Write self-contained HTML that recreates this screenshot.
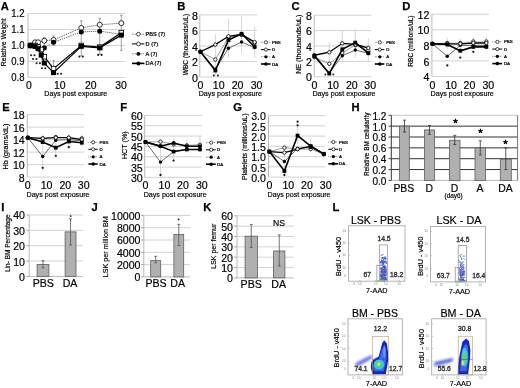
<!DOCTYPE html>
<html><head><meta charset="utf-8"><style>
html,body{margin:0;padding:0;background:#fff;}
body{width:520px;height:388px;overflow:hidden;font-family:"Liberation Sans", sans-serif;}
svg{display:block;}
</style></head><body>
<div style="will-change:transform"><svg width="520" height="388" viewBox="0 0 520 388" font-family='"Liberation Sans", sans-serif'>
<rect width="520" height="388" fill="#fff"/>
<text x="0.80" y="9.80" font-size="11.2" text-anchor="start" font-weight="bold" fill="#000" stroke="#000" stroke-width="0.25">A</text>
<text x="177.20" y="10.30" font-size="11.2" text-anchor="start" font-weight="bold" fill="#000" stroke="#000" stroke-width="0.25">B</text>
<text x="291.60" y="10.30" font-size="11.2" text-anchor="start" font-weight="bold" fill="#000" stroke="#000" stroke-width="0.25">C</text>
<text x="402.20" y="10.30" font-size="11.2" text-anchor="start" font-weight="bold" fill="#000" stroke="#000" stroke-width="0.25">D</text>
<text x="2.20" y="111.00" font-size="11.2" text-anchor="start" font-weight="bold" fill="#000" stroke="#000" stroke-width="0.25">E</text>
<text x="120.20" y="111.00" font-size="11.2" text-anchor="start" font-weight="bold" fill="#000" stroke="#000" stroke-width="0.25">F</text>
<text x="233.20" y="111.00" font-size="11.2" text-anchor="start" font-weight="bold" fill="#000" stroke="#000" stroke-width="0.25">G</text>
<text x="351.60" y="111.00" font-size="11.2" text-anchor="start" font-weight="bold" fill="#000" stroke="#000" stroke-width="0.25">H</text>
<text x="1.30" y="211.20" font-size="11.2" text-anchor="start" font-weight="bold" fill="#000" stroke="#000" stroke-width="0.25">I</text>
<text x="91.60" y="211.20" font-size="11.2" text-anchor="start" font-weight="bold" fill="#000" stroke="#000" stroke-width="0.25">J</text>
<text x="203.20" y="211.20" font-size="11.2" text-anchor="start" font-weight="bold" fill="#000" stroke="#000" stroke-width="0.25">K</text>
<text x="332.60" y="211.20" font-size="11.2" text-anchor="start" font-weight="bold" fill="#000" stroke="#000" stroke-width="0.25">L</text>
<line x1="28.00" y1="77.40" x2="125.00" y2="77.40" stroke="#d2d2d2" stroke-width="1" stroke-linecap="butt"/>
<line x1="28.00" y1="61.45" x2="125.00" y2="61.45" stroke="#d2d2d2" stroke-width="1" stroke-linecap="butt"/>
<line x1="28.00" y1="45.50" x2="125.00" y2="45.50" stroke="#d2d2d2" stroke-width="1" stroke-linecap="butt"/>
<line x1="28.00" y1="29.55" x2="125.00" y2="29.55" stroke="#d2d2d2" stroke-width="1" stroke-linecap="butt"/>
<line x1="28.00" y1="13.60" x2="125.00" y2="13.60" stroke="#d2d2d2" stroke-width="1" stroke-linecap="butt"/>
<line x1="28.00" y1="77.40" x2="28.00" y2="13.60" stroke="#b8b8b8" stroke-width="1" stroke-linecap="butt"/>
<text transform="translate(24.60 81.04) scale(0.92 1)" font-size="10.4" text-anchor="end" font-weight="normal" fill="#000" stroke="#000" stroke-width="0.18">0.8</text>
<text transform="translate(24.60 65.09) scale(0.92 1)" font-size="10.4" text-anchor="end" font-weight="normal" fill="#000" stroke="#000" stroke-width="0.18">0.9</text>
<text transform="translate(24.60 49.14) scale(0.92 1)" font-size="10.4" text-anchor="end" font-weight="normal" fill="#000" stroke="#000" stroke-width="0.18">1.0</text>
<text transform="translate(24.60 33.19) scale(0.92 1)" font-size="10.4" text-anchor="end" font-weight="normal" fill="#000" stroke="#000" stroke-width="0.18">1.1</text>
<text transform="translate(24.60 17.24) scale(0.92 1)" font-size="10.4" text-anchor="end" font-weight="normal" fill="#000" stroke="#000" stroke-width="0.18">1.2</text>
<text x="28.80" y="89.00" font-size="10.4" text-anchor="middle" font-weight="normal" fill="#000" stroke="#000" stroke-width="0.18">0</text>
<text x="59.80" y="89.00" font-size="10.4" text-anchor="middle" font-weight="normal" fill="#000" stroke="#000" stroke-width="0.18">10</text>
<text x="90.70" y="89.00" font-size="10.4" text-anchor="middle" font-weight="normal" fill="#000" stroke="#000" stroke-width="0.18">20</text>
<text x="121.00" y="89.00" font-size="10.4" text-anchor="middle" font-weight="normal" fill="#000" stroke="#000" stroke-width="0.18">30</text>
<text x="75.80" y="96.00" font-size="7.5" text-anchor="middle" font-weight="normal" fill="#000" stroke="#000" stroke-width="0.18" textLength="63.00" lengthAdjust="spacingAndGlyphs">Days post exposure</text>
<text transform="translate(6.00 42.30) rotate(-90)" font-size="6.9" text-anchor="middle" font-weight="normal" fill="#000" stroke="#000" stroke-width="0.18" textLength="47.90" lengthAdjust="spacingAndGlyphs">Relative Weight</text>
<line x1="53.54" y1="72.62" x2="53.54" y2="60.65" stroke="#888" stroke-width="0.8" stroke-linecap="butt"/>
<line x1="52.34" y1="72.62" x2="54.74" y2="72.62" stroke="#888" stroke-width="0.8" stroke-linecap="butt"/>
<line x1="52.34" y1="60.65" x2="54.74" y2="60.65" stroke="#888" stroke-width="0.8" stroke-linecap="butt"/>
<line x1="81.26" y1="55.87" x2="81.26" y2="20.78" stroke="#888" stroke-width="0.8" stroke-linecap="butt"/>
<line x1="80.06" y1="55.87" x2="82.46" y2="55.87" stroke="#888" stroke-width="0.8" stroke-linecap="butt"/>
<line x1="80.06" y1="20.78" x2="82.46" y2="20.78" stroke="#888" stroke-width="0.8" stroke-linecap="butt"/>
<line x1="99.74" y1="54.27" x2="99.74" y2="18.39" stroke="#888" stroke-width="0.8" stroke-linecap="butt"/>
<line x1="98.54" y1="54.27" x2="100.94" y2="54.27" stroke="#888" stroke-width="0.8" stroke-linecap="butt"/>
<line x1="98.54" y1="18.39" x2="100.94" y2="18.39" stroke="#888" stroke-width="0.8" stroke-linecap="butt"/>
<line x1="121.30" y1="50.29" x2="121.30" y2="15.19" stroke="#888" stroke-width="0.8" stroke-linecap="butt"/>
<line x1="120.10" y1="50.29" x2="122.50" y2="50.29" stroke="#888" stroke-width="0.8" stroke-linecap="butt"/>
<line x1="120.10" y1="15.19" x2="122.50" y2="15.19" stroke="#888" stroke-width="0.8" stroke-linecap="butt"/>
<line x1="53.54" y1="45.50" x2="53.54" y2="35.93" stroke="#888" stroke-width="0.8" stroke-linecap="butt"/>
<line x1="52.34" y1="45.50" x2="54.74" y2="45.50" stroke="#888" stroke-width="0.8" stroke-linecap="butt"/>
<line x1="52.34" y1="35.93" x2="54.74" y2="35.93" stroke="#888" stroke-width="0.8" stroke-linecap="butt"/>
<line x1="44.30" y1="45.50" x2="44.30" y2="37.52" stroke="#888" stroke-width="0.8" stroke-linecap="butt"/>
<line x1="43.10" y1="45.50" x2="45.50" y2="45.50" stroke="#888" stroke-width="0.8" stroke-linecap="butt"/>
<line x1="43.10" y1="37.52" x2="45.50" y2="37.52" stroke="#888" stroke-width="0.8" stroke-linecap="butt"/>
<polyline points="30.44,45.50 35.06,42.31 38.14,42.31 44.30,40.71 53.54,39.92 81.26,27.95 99.74,24.77 121.30,23.17" fill="none" stroke="#333" stroke-width="0.9" stroke-dasharray="1,1" stroke-linejoin="miter"/>
<circle cx="30.44" cy="45.50" r="2.50" fill="#fff" stroke="#000" stroke-width="0.8"/>
<circle cx="35.06" cy="42.31" r="2.50" fill="#fff" stroke="#000" stroke-width="0.8"/>
<circle cx="38.14" cy="42.31" r="2.50" fill="#fff" stroke="#000" stroke-width="0.8"/>
<circle cx="44.30" cy="40.71" r="2.50" fill="#fff" stroke="#000" stroke-width="0.8"/>
<circle cx="53.54" cy="39.92" r="2.50" fill="#fff" stroke="#000" stroke-width="0.8"/>
<circle cx="81.26" cy="27.95" r="2.50" fill="#fff" stroke="#000" stroke-width="0.8"/>
<circle cx="99.74" cy="24.77" r="2.50" fill="#fff" stroke="#000" stroke-width="0.8"/>
<circle cx="121.30" cy="23.17" r="2.50" fill="#fff" stroke="#000" stroke-width="0.8"/>
<polyline points="30.44,45.50 35.06,46.30 38.14,47.09 44.30,47.89 53.54,42.31 81.26,31.94 99.74,31.14 121.30,34.33" fill="none" stroke="#333" stroke-width="0.9" stroke-dasharray="1,1" stroke-linejoin="miter"/>
<circle cx="30.44" cy="45.50" r="2.50" fill="#000"/>
<circle cx="35.06" cy="46.30" r="2.50" fill="#000"/>
<circle cx="38.14" cy="47.09" r="2.50" fill="#000"/>
<circle cx="44.30" cy="47.89" r="2.50" fill="#000"/>
<circle cx="53.54" cy="42.31" r="2.50" fill="#000"/>
<circle cx="81.26" cy="31.94" r="2.50" fill="#000"/>
<circle cx="99.74" cy="31.14" r="2.50" fill="#000"/>
<circle cx="121.30" cy="34.33" r="2.50" fill="#000"/>
<polyline points="30.44,45.50 35.06,45.50 38.14,47.09 41.22,49.49 44.30,56.66 53.54,68.63 81.26,45.50 99.74,47.09 121.30,32.74" fill="none" stroke="#000" stroke-width="1.2" stroke-linejoin="miter"/>
<rect x="28.14" y="43.20" width="4.60" height="4.60" fill="#fff" stroke="#000" stroke-width="0.8"/>
<rect x="32.76" y="43.20" width="4.60" height="4.60" fill="#fff" stroke="#000" stroke-width="0.8"/>
<rect x="35.84" y="44.80" width="4.60" height="4.60" fill="#fff" stroke="#000" stroke-width="0.8"/>
<rect x="38.92" y="47.19" width="4.60" height="4.60" fill="#fff" stroke="#000" stroke-width="0.8"/>
<rect x="42.00" y="54.36" width="4.60" height="4.60" fill="#fff" stroke="#000" stroke-width="0.8"/>
<rect x="51.24" y="66.33" width="4.60" height="4.60" fill="#fff" stroke="#000" stroke-width="0.8"/>
<rect x="78.96" y="43.20" width="4.60" height="4.60" fill="#fff" stroke="#000" stroke-width="0.8"/>
<rect x="97.44" y="44.80" width="4.60" height="4.60" fill="#fff" stroke="#000" stroke-width="0.8"/>
<rect x="119.00" y="30.44" width="4.60" height="4.60" fill="#fff" stroke="#000" stroke-width="0.8"/>
<polyline points="30.44,45.50 35.06,46.30 38.14,48.69 41.22,55.07 44.30,63.05 53.54,72.62 81.26,46.30 99.74,47.89 121.30,35.13" fill="none" stroke="#000" stroke-width="1.2" stroke-linejoin="miter"/>
<rect x="27.94" y="43.00" width="5.00" height="5.00" fill="#000"/>
<rect x="32.56" y="43.80" width="5.00" height="5.00" fill="#000"/>
<rect x="35.64" y="46.19" width="5.00" height="5.00" fill="#000"/>
<rect x="38.72" y="52.57" width="5.00" height="5.00" fill="#000"/>
<rect x="41.80" y="60.55" width="5.00" height="5.00" fill="#000"/>
<rect x="51.04" y="70.12" width="5.00" height="5.00" fill="#000"/>
<rect x="78.76" y="43.80" width="5.00" height="5.00" fill="#000"/>
<rect x="97.24" y="45.39" width="5.00" height="5.00" fill="#000"/>
<rect x="118.80" y="32.63" width="5.00" height="5.00" fill="#000"/>
<circle cx="31.10" cy="55.30" r="1.05" fill="#1a1a1a"/>
<circle cx="34.50" cy="55.30" r="1.05" fill="#1a1a1a"/>
<circle cx="33.10" cy="59.00" r="1.05" fill="#1a1a1a"/>
<circle cx="36.50" cy="59.00" r="1.05" fill="#1a1a1a"/>
<circle cx="36.60" cy="63.30" r="1.05" fill="#1a1a1a"/>
<circle cx="40.00" cy="63.30" r="1.05" fill="#1a1a1a"/>
<circle cx="41.90" cy="68.30" r="1.05" fill="#1a1a1a"/>
<circle cx="45.30" cy="68.30" r="1.05" fill="#1a1a1a"/>
<circle cx="57.70" cy="73.70" r="1.05" fill="#1a1a1a"/>
<circle cx="61.10" cy="73.70" r="1.05" fill="#1a1a1a"/>
<circle cx="79.40" cy="56.60" r="1.05" fill="#1a1a1a"/>
<circle cx="82.80" cy="56.60" r="1.05" fill="#1a1a1a"/>
<circle cx="98.20" cy="54.90" r="1.05" fill="#1a1a1a"/>
<circle cx="101.60" cy="54.90" r="1.05" fill="#1a1a1a"/>
<line x1="132.00" y1="34.20" x2="144.40" y2="34.20" stroke="#444" stroke-width="0.8" stroke-dasharray="0.8,0.8" stroke-linecap="butt"/>
<circle cx="138.40" cy="34.20" r="1.90" fill="#fff" stroke="#000" stroke-width="0.7"/>
<text x="145.60" y="36.22" font-size="5.6" text-anchor="start" font-weight="normal" fill="#000" stroke="#000" stroke-width="0.22">PBS (7)</text>
<line x1="132.00" y1="43.90" x2="144.40" y2="43.90" stroke="#000" stroke-width="1.0" stroke-linecap="butt"/>
<circle cx="138.40" cy="43.90" r="1.90" fill="#fff" stroke="#000" stroke-width="0.7"/>
<text x="145.60" y="45.92" font-size="5.6" text-anchor="start" font-weight="normal" fill="#000" stroke="#000" stroke-width="0.22">D (7)</text>
<line x1="132.00" y1="53.80" x2="144.40" y2="53.80" stroke="#444" stroke-width="0.8" stroke-dasharray="0.8,0.8" stroke-linecap="butt"/>
<circle cx="138.40" cy="53.80" r="1.90" fill="#000"/>
<text x="145.60" y="55.82" font-size="5.6" text-anchor="start" font-weight="normal" fill="#000" stroke="#000" stroke-width="0.22">A (7)</text>
<line x1="132.00" y1="63.40" x2="144.40" y2="63.40" stroke="#000" stroke-width="1.6" stroke-linecap="butt"/>
<circle cx="138.40" cy="63.40" r="2.00" fill="#000"/>
<text x="145.60" y="65.42" font-size="5.6" text-anchor="start" font-weight="normal" fill="#000" stroke="#000" stroke-width="0.22">DA (7)</text>
<line x1="199.80" y1="77.00" x2="257.00" y2="77.00" stroke="#d2d2d2" stroke-width="1" stroke-linecap="butt"/>
<line x1="199.80" y1="61.48" x2="257.00" y2="61.48" stroke="#d2d2d2" stroke-width="1" stroke-linecap="butt"/>
<line x1="199.80" y1="45.95" x2="257.00" y2="45.95" stroke="#d2d2d2" stroke-width="1" stroke-linecap="butt"/>
<line x1="199.80" y1="30.43" x2="257.00" y2="30.43" stroke="#d2d2d2" stroke-width="1" stroke-linecap="butt"/>
<line x1="199.80" y1="14.90" x2="257.00" y2="14.90" stroke="#d2d2d2" stroke-width="1" stroke-linecap="butt"/>
<line x1="199.80" y1="77.00" x2="199.80" y2="14.90" stroke="#b8b8b8" stroke-width="1" stroke-linecap="butt"/>
<text x="198.00" y="81.66" font-size="10.6" text-anchor="end" font-weight="normal" fill="#000" stroke="#000" stroke-width="0.18">0</text>
<text x="198.00" y="66.14" font-size="10.6" text-anchor="end" font-weight="normal" fill="#000" stroke="#000" stroke-width="0.18">2</text>
<text x="198.00" y="50.61" font-size="10.6" text-anchor="end" font-weight="normal" fill="#000" stroke="#000" stroke-width="0.18">4</text>
<text x="198.00" y="35.09" font-size="10.6" text-anchor="end" font-weight="normal" fill="#000" stroke="#000" stroke-width="0.18">6</text>
<text x="198.00" y="19.56" font-size="10.6" text-anchor="end" font-weight="normal" fill="#000" stroke="#000" stroke-width="0.18">8</text>
<text x="200.50" y="89.00" font-size="10.6" text-anchor="middle" font-weight="normal" fill="#000" stroke="#000" stroke-width="0.18">0</text>
<text x="218.70" y="89.00" font-size="10.6" text-anchor="middle" font-weight="normal" fill="#000" stroke="#000" stroke-width="0.18">10</text>
<text x="237.60" y="89.00" font-size="10.6" text-anchor="middle" font-weight="normal" fill="#000" stroke="#000" stroke-width="0.18">20</text>
<text x="256.60" y="89.00" font-size="10.6" text-anchor="middle" font-weight="normal" fill="#000" stroke="#000" stroke-width="0.18">30</text>
<text x="230.30" y="95.90" font-size="7.5" text-anchor="middle" font-weight="normal" fill="#000" stroke="#000" stroke-width="0.18" textLength="63.20" lengthAdjust="spacingAndGlyphs">Days post exposure</text>
<text transform="translate(188.30 44.60) rotate(-90)" font-size="6.6" text-anchor="middle" font-weight="normal" fill="#000" stroke="#000" stroke-width="0.18" textLength="61.50" lengthAdjust="spacingAndGlyphs">WBC (thousands/uL)</text>
<line x1="215.36" y1="75.45" x2="215.36" y2="34.31" stroke="#ccc" stroke-width="0.8" stroke-linecap="butt"/>
<line x1="228.45" y1="57.59" x2="228.45" y2="18.78" stroke="#ccc" stroke-width="0.8" stroke-linecap="butt"/>
<line x1="241.54" y1="53.71" x2="241.54" y2="16.45" stroke="#ccc" stroke-width="0.8" stroke-linecap="butt"/>
<line x1="254.63" y1="57.59" x2="254.63" y2="26.54" stroke="#ccc" stroke-width="0.8" stroke-linecap="butt"/>
<polyline points="200.40,51.77 215.36,59.53 228.45,37.41 241.54,35.08 254.63,42.84" fill="none" stroke="#888" stroke-width="0.8" stroke-linejoin="miter"/>
<circle cx="200.40" cy="51.77" r="1.70" fill="#fff" stroke="#000" stroke-width="0.8"/>
<circle cx="215.36" cy="59.53" r="1.70" fill="#fff" stroke="#000" stroke-width="0.8"/>
<circle cx="228.45" cy="37.41" r="1.70" fill="#fff" stroke="#000" stroke-width="0.8"/>
<circle cx="241.54" cy="35.08" r="1.70" fill="#fff" stroke="#000" stroke-width="0.8"/>
<circle cx="254.63" cy="42.84" r="1.70" fill="#fff" stroke="#000" stroke-width="0.8"/>
<polyline points="200.40,51.77 215.36,69.24 228.45,48.28 241.54,42.07 254.63,47.50" fill="none" stroke="#444" stroke-width="0.8" stroke-linejoin="miter"/>
<circle cx="200.40" cy="51.77" r="1.70" fill="#000"/>
<circle cx="215.36" cy="69.24" r="1.70" fill="#000"/>
<circle cx="228.45" cy="48.28" r="1.70" fill="#000"/>
<circle cx="241.54" cy="42.07" r="1.70" fill="#000"/>
<circle cx="254.63" cy="47.50" r="1.70" fill="#000"/>
<polyline points="200.40,51.77 215.36,44.63 228.45,36.25 241.54,34.31 254.63,42.07" fill="none" stroke="#000" stroke-width="1.3" stroke-linejoin="miter"/>
<circle cx="200.40" cy="51.77" r="1.70" fill="#fff" stroke="#000" stroke-width="0.8"/>
<circle cx="215.36" cy="44.63" r="1.70" fill="#fff" stroke="#000" stroke-width="0.8"/>
<circle cx="228.45" cy="36.25" r="1.70" fill="#fff" stroke="#000" stroke-width="0.8"/>
<circle cx="241.54" cy="34.31" r="1.70" fill="#fff" stroke="#000" stroke-width="0.8"/>
<circle cx="254.63" cy="42.07" r="1.70" fill="#fff" stroke="#000" stroke-width="0.8"/>
<polyline points="200.40,51.77 215.36,70.56 228.45,40.13 241.54,33.76 254.63,46.73" fill="none" stroke="#000" stroke-width="1.6" stroke-linejoin="miter"/>
<rect x="198.50" y="49.87" width="3.80" height="3.80" fill="#000"/>
<rect x="213.46" y="68.66" width="3.80" height="3.80" fill="#000"/>
<rect x="226.55" y="38.23" width="3.80" height="3.80" fill="#000"/>
<rect x="239.64" y="31.86" width="3.80" height="3.80" fill="#000"/>
<rect x="252.73" y="44.83" width="3.80" height="3.80" fill="#000"/>
<circle cx="213.80" cy="75.40" r="1.0" fill="#1a1a1a"/>
<circle cx="217.90" cy="75.40" r="1.0" fill="#1a1a1a"/>
<line x1="260.90" y1="42.30" x2="270.60" y2="42.30" stroke="#444" stroke-width="0.8" stroke-dasharray="0.8,0.8" stroke-linecap="butt"/>
<circle cx="265.90" cy="42.30" r="1.60" fill="#fff" stroke="#000" stroke-width="0.7"/>
<text x="272.00" y="43.88" font-size="4.4" text-anchor="start" font-weight="normal" fill="#000" stroke="#000" stroke-width="0.22">PBS</text>
<line x1="260.90" y1="49.60" x2="270.60" y2="49.60" stroke="#000" stroke-width="1.0" stroke-linecap="butt"/>
<circle cx="265.90" cy="49.60" r="1.60" fill="#fff" stroke="#000" stroke-width="0.7"/>
<text x="272.00" y="51.18" font-size="4.4" text-anchor="start" font-weight="normal" fill="#000" stroke="#000" stroke-width="0.22">D</text>
<line x1="260.90" y1="56.80" x2="270.60" y2="56.80" stroke="#444" stroke-width="0.8" stroke-dasharray="0.8,0.8" stroke-linecap="butt"/>
<circle cx="265.90" cy="56.80" r="1.60" fill="#000"/>
<text x="272.00" y="58.38" font-size="4.4" text-anchor="start" font-weight="normal" fill="#000" stroke="#000" stroke-width="0.22">A</text>
<line x1="260.90" y1="64.00" x2="270.60" y2="64.00" stroke="#000" stroke-width="1.6" stroke-linecap="butt"/>
<circle cx="265.90" cy="64.00" r="1.80" fill="#000"/>
<text x="272.00" y="65.58" font-size="4.4" text-anchor="start" font-weight="normal" fill="#000" stroke="#000" stroke-width="0.22">DA</text>
<line x1="314.20" y1="76.80" x2="371.50" y2="76.80" stroke="#d2d2d2" stroke-width="1" stroke-linecap="butt"/>
<line x1="314.20" y1="61.40" x2="371.50" y2="61.40" stroke="#d2d2d2" stroke-width="1" stroke-linecap="butt"/>
<line x1="314.20" y1="46.00" x2="371.50" y2="46.00" stroke="#d2d2d2" stroke-width="1" stroke-linecap="butt"/>
<line x1="314.20" y1="30.60" x2="371.50" y2="30.60" stroke="#d2d2d2" stroke-width="1" stroke-linecap="butt"/>
<line x1="314.20" y1="15.20" x2="371.50" y2="15.20" stroke="#d2d2d2" stroke-width="1" stroke-linecap="butt"/>
<line x1="314.20" y1="76.80" x2="314.20" y2="15.20" stroke="#b8b8b8" stroke-width="1" stroke-linecap="butt"/>
<text x="311.80" y="81.46" font-size="10.6" text-anchor="end" font-weight="normal" fill="#000" stroke="#000" stroke-width="0.18">0</text>
<text x="311.80" y="66.06" font-size="10.6" text-anchor="end" font-weight="normal" fill="#000" stroke="#000" stroke-width="0.18">2</text>
<text x="311.80" y="50.66" font-size="10.6" text-anchor="end" font-weight="normal" fill="#000" stroke="#000" stroke-width="0.18">4</text>
<text x="311.80" y="35.26" font-size="10.6" text-anchor="end" font-weight="normal" fill="#000" stroke="#000" stroke-width="0.18">6</text>
<text x="311.80" y="19.86" font-size="10.6" text-anchor="end" font-weight="normal" fill="#000" stroke="#000" stroke-width="0.18">8</text>
<text x="314.40" y="89.00" font-size="10.6" text-anchor="middle" font-weight="normal" fill="#000" stroke="#000" stroke-width="0.18">0</text>
<text x="333.10" y="89.00" font-size="10.6" text-anchor="middle" font-weight="normal" fill="#000" stroke="#000" stroke-width="0.18">10</text>
<text x="351.80" y="89.00" font-size="10.6" text-anchor="middle" font-weight="normal" fill="#000" stroke="#000" stroke-width="0.18">20</text>
<text x="370.20" y="89.00" font-size="10.6" text-anchor="middle" font-weight="normal" fill="#000" stroke="#000" stroke-width="0.18">30</text>
<text x="344.00" y="95.90" font-size="7.5" text-anchor="middle" font-weight="normal" fill="#000" stroke="#000" stroke-width="0.18" textLength="63.20" lengthAdjust="spacingAndGlyphs">Days post exposure</text>
<text transform="translate(300.80 44.20) rotate(-90)" font-size="6.4" text-anchor="middle" font-weight="normal" fill="#000" stroke="#000" stroke-width="0.18" textLength="59.20" lengthAdjust="spacingAndGlyphs">NE (thousands/uL)</text>
<line x1="329.28" y1="75.26" x2="329.28" y2="42.15" stroke="#ccc" stroke-width="0.8" stroke-linecap="butt"/>
<line x1="342.30" y1="61.40" x2="342.30" y2="30.60" stroke="#ccc" stroke-width="0.8" stroke-linecap="butt"/>
<line x1="355.32" y1="57.55" x2="355.32" y2="29.06" stroke="#ccc" stroke-width="0.8" stroke-linecap="butt"/>
<line x1="368.34" y1="61.40" x2="368.34" y2="38.30" stroke="#ccc" stroke-width="0.8" stroke-linecap="butt"/>
<polyline points="314.40,57.16 329.28,63.79 342.30,52.93 355.32,45.23 368.34,50.62" fill="none" stroke="#888" stroke-width="0.8" stroke-linejoin="miter"/>
<circle cx="314.40" cy="57.16" r="1.70" fill="#fff" stroke="#000" stroke-width="0.8"/>
<circle cx="329.28" cy="63.79" r="1.70" fill="#fff" stroke="#000" stroke-width="0.8"/>
<circle cx="342.30" cy="52.93" r="1.70" fill="#fff" stroke="#000" stroke-width="0.8"/>
<circle cx="355.32" cy="45.23" r="1.70" fill="#fff" stroke="#000" stroke-width="0.8"/>
<circle cx="368.34" cy="50.62" r="1.70" fill="#fff" stroke="#000" stroke-width="0.8"/>
<polyline points="314.40,56.78 329.28,72.95 342.30,55.78 355.32,50.00 368.34,53.24" fill="none" stroke="#444" stroke-width="0.8" stroke-linejoin="miter"/>
<circle cx="314.40" cy="56.78" r="1.70" fill="#000"/>
<circle cx="329.28" cy="72.95" r="1.70" fill="#000"/>
<circle cx="342.30" cy="55.78" r="1.70" fill="#000"/>
<circle cx="355.32" cy="50.00" r="1.70" fill="#000"/>
<circle cx="368.34" cy="53.24" r="1.70" fill="#000"/>
<polyline points="314.40,55.24 329.28,52.24 342.30,43.30 355.32,44.46 368.34,48.00" fill="none" stroke="#000" stroke-width="1.3" stroke-linejoin="miter"/>
<circle cx="314.40" cy="55.24" r="1.70" fill="#fff" stroke="#000" stroke-width="0.8"/>
<circle cx="329.28" cy="52.24" r="1.70" fill="#fff" stroke="#000" stroke-width="0.8"/>
<circle cx="342.30" cy="43.30" r="1.70" fill="#fff" stroke="#000" stroke-width="0.8"/>
<circle cx="355.32" cy="44.46" r="1.70" fill="#fff" stroke="#000" stroke-width="0.8"/>
<circle cx="368.34" cy="48.00" r="1.70" fill="#fff" stroke="#000" stroke-width="0.8"/>
<polyline points="314.40,55.62 329.28,73.57 342.30,49.31 355.32,42.61 368.34,53.24" fill="none" stroke="#000" stroke-width="1.6" stroke-linejoin="miter"/>
<rect x="312.50" y="53.73" width="3.80" height="3.80" fill="#000"/>
<rect x="327.38" y="71.67" width="3.80" height="3.80" fill="#000"/>
<rect x="340.40" y="47.41" width="3.80" height="3.80" fill="#000"/>
<rect x="353.42" y="40.71" width="3.80" height="3.80" fill="#000"/>
<rect x="366.44" y="51.34" width="3.80" height="3.80" fill="#000"/>
<circle cx="325.40" cy="74.50" r="0.95" fill="#1a1a1a"/>
<circle cx="333.30" cy="74.50" r="0.95" fill="#1a1a1a"/>
<line x1="374.80" y1="42.30" x2="384.40" y2="42.30" stroke="#444" stroke-width="0.8" stroke-dasharray="0.8,0.8" stroke-linecap="butt"/>
<circle cx="379.80" cy="42.30" r="1.60" fill="#fff" stroke="#000" stroke-width="0.7"/>
<text x="386.20" y="43.88" font-size="4.4" text-anchor="start" font-weight="normal" fill="#000" stroke="#000" stroke-width="0.22">PBS</text>
<line x1="374.80" y1="49.60" x2="384.40" y2="49.60" stroke="#000" stroke-width="1.0" stroke-linecap="butt"/>
<circle cx="379.80" cy="49.60" r="1.60" fill="#fff" stroke="#000" stroke-width="0.7"/>
<text x="386.20" y="51.18" font-size="4.4" text-anchor="start" font-weight="normal" fill="#000" stroke="#000" stroke-width="0.22">D</text>
<line x1="374.80" y1="56.80" x2="384.40" y2="56.80" stroke="#444" stroke-width="0.8" stroke-dasharray="0.8,0.8" stroke-linecap="butt"/>
<circle cx="379.80" cy="56.80" r="1.60" fill="#000"/>
<text x="386.20" y="58.38" font-size="4.4" text-anchor="start" font-weight="normal" fill="#000" stroke="#000" stroke-width="0.22">A</text>
<line x1="374.80" y1="64.00" x2="384.40" y2="64.00" stroke="#000" stroke-width="1.6" stroke-linecap="butt"/>
<circle cx="379.80" cy="64.00" r="1.80" fill="#000"/>
<text x="386.20" y="65.58" font-size="4.4" text-anchor="start" font-weight="normal" fill="#000" stroke="#000" stroke-width="0.22">DA</text>
<line x1="431.90" y1="76.40" x2="489.00" y2="76.40" stroke="#d2d2d2" stroke-width="1" stroke-linecap="butt"/>
<line x1="431.90" y1="60.88" x2="489.00" y2="60.88" stroke="#d2d2d2" stroke-width="1" stroke-linecap="butt"/>
<line x1="431.90" y1="45.35" x2="489.00" y2="45.35" stroke="#d2d2d2" stroke-width="1" stroke-linecap="butt"/>
<line x1="431.90" y1="29.83" x2="489.00" y2="29.83" stroke="#d2d2d2" stroke-width="1" stroke-linecap="butt"/>
<line x1="431.90" y1="14.30" x2="489.00" y2="14.30" stroke="#d2d2d2" stroke-width="1" stroke-linecap="butt"/>
<line x1="431.90" y1="76.40" x2="431.90" y2="14.30" stroke="#b8b8b8" stroke-width="1" stroke-linecap="butt"/>
<text x="429.40" y="81.06" font-size="10.6" text-anchor="end" font-weight="normal" fill="#000" stroke="#000" stroke-width="0.18">4</text>
<text x="429.40" y="65.54" font-size="10.6" text-anchor="end" font-weight="normal" fill="#000" stroke="#000" stroke-width="0.18">6</text>
<text x="429.40" y="50.01" font-size="10.6" text-anchor="end" font-weight="normal" fill="#000" stroke="#000" stroke-width="0.18">8</text>
<text x="429.40" y="34.49" font-size="10.6" text-anchor="end" font-weight="normal" fill="#000" stroke="#000" stroke-width="0.18">10</text>
<text x="429.40" y="18.96" font-size="10.6" text-anchor="end" font-weight="normal" fill="#000" stroke="#000" stroke-width="0.18">12</text>
<text x="432.40" y="89.00" font-size="10.6" text-anchor="middle" font-weight="normal" fill="#000" stroke="#000" stroke-width="0.18">0</text>
<text x="451.10" y="89.00" font-size="10.6" text-anchor="middle" font-weight="normal" fill="#000" stroke="#000" stroke-width="0.18">10</text>
<text x="469.40" y="89.00" font-size="10.6" text-anchor="middle" font-weight="normal" fill="#000" stroke="#000" stroke-width="0.18">20</text>
<text x="488.30" y="89.00" font-size="10.6" text-anchor="middle" font-weight="normal" fill="#000" stroke="#000" stroke-width="0.18">30</text>
<text x="462.20" y="95.90" font-size="7.5" text-anchor="middle" font-weight="normal" fill="#000" stroke="#000" stroke-width="0.18" textLength="63.20" lengthAdjust="spacingAndGlyphs">Days post exposure</text>
<text transform="translate(413.40 41.10) rotate(-90)" font-size="6.4" text-anchor="middle" font-weight="normal" fill="#000" stroke="#000" stroke-width="0.18" textLength="51.20" lengthAdjust="spacingAndGlyphs">RBC (millions/uL)</text>
<line x1="447.28" y1="49.23" x2="447.28" y2="37.59" stroke="#ccc" stroke-width="0.8" stroke-linecap="butt"/>
<line x1="460.30" y1="49.23" x2="460.30" y2="39.14" stroke="#ccc" stroke-width="0.8" stroke-linecap="butt"/>
<line x1="473.32" y1="50.01" x2="473.32" y2="37.59" stroke="#ccc" stroke-width="0.8" stroke-linecap="butt"/>
<line x1="486.34" y1="50.01" x2="486.34" y2="36.04" stroke="#ccc" stroke-width="0.8" stroke-linecap="butt"/>
<polyline points="432.40,43.80 447.28,43.02 460.30,43.02 473.32,41.47 486.34,41.47" fill="none" stroke="#888" stroke-width="0.8" stroke-dasharray="1,1" stroke-linejoin="miter"/>
<circle cx="432.40" cy="43.80" r="1.70" fill="#fff" stroke="#000" stroke-width="0.8"/>
<circle cx="447.28" cy="43.02" r="1.70" fill="#fff" stroke="#000" stroke-width="0.8"/>
<circle cx="460.30" cy="43.02" r="1.70" fill="#fff" stroke="#000" stroke-width="0.8"/>
<circle cx="473.32" cy="41.47" r="1.70" fill="#fff" stroke="#000" stroke-width="0.8"/>
<circle cx="486.34" cy="41.47" r="1.70" fill="#fff" stroke="#000" stroke-width="0.8"/>
<polyline points="432.40,43.80 447.28,56.22 460.30,45.35 473.32,45.35 486.34,45.35" fill="none" stroke="#444" stroke-width="0.8" stroke-linejoin="miter"/>
<circle cx="432.40" cy="43.80" r="1.70" fill="#000"/>
<circle cx="447.28" cy="56.22" r="1.70" fill="#000"/>
<circle cx="460.30" cy="45.35" r="1.70" fill="#000"/>
<circle cx="473.32" cy="45.35" r="1.70" fill="#000"/>
<circle cx="486.34" cy="45.35" r="1.70" fill="#000"/>
<polyline points="432.40,43.80 447.28,43.80 460.30,43.80 473.32,43.02 486.34,43.02" fill="none" stroke="#000" stroke-width="1.3" stroke-linejoin="miter"/>
<circle cx="432.40" cy="43.80" r="1.70" fill="#fff" stroke="#000" stroke-width="0.8"/>
<circle cx="447.28" cy="43.80" r="1.70" fill="#fff" stroke="#000" stroke-width="0.8"/>
<circle cx="460.30" cy="43.80" r="1.70" fill="#fff" stroke="#000" stroke-width="0.8"/>
<circle cx="473.32" cy="43.02" r="1.70" fill="#fff" stroke="#000" stroke-width="0.8"/>
<circle cx="486.34" cy="43.02" r="1.70" fill="#fff" stroke="#000" stroke-width="0.8"/>
<polyline points="432.40,43.80 447.28,44.57 460.30,50.78 473.32,46.90 486.34,46.90" fill="none" stroke="#000" stroke-width="1.6" stroke-linejoin="miter"/>
<rect x="430.50" y="41.90" width="3.80" height="3.80" fill="#000"/>
<rect x="445.38" y="42.67" width="3.80" height="3.80" fill="#000"/>
<rect x="458.40" y="48.88" width="3.80" height="3.80" fill="#000"/>
<rect x="471.42" y="45.00" width="3.80" height="3.80" fill="#000"/>
<rect x="484.44" y="45.00" width="3.80" height="3.80" fill="#000"/>
<circle cx="447.30" cy="65.40" r="1.15" fill="#1a1a1a"/>
<circle cx="460.30" cy="57.60" r="1.15" fill="#1a1a1a"/>
<circle cx="473.30" cy="51.80" r="1.15" fill="#1a1a1a"/>
<line x1="492.30" y1="41.90" x2="502.20" y2="41.90" stroke="#444" stroke-width="0.8" stroke-dasharray="0.8,0.8" stroke-linecap="butt"/>
<circle cx="497.40" cy="41.90" r="1.60" fill="#fff" stroke="#000" stroke-width="0.7"/>
<text x="503.90" y="43.48" font-size="4.4" text-anchor="start" font-weight="normal" fill="#000" stroke="#000" stroke-width="0.22">PBS</text>
<line x1="492.30" y1="49.10" x2="502.20" y2="49.10" stroke="#000" stroke-width="1.0" stroke-linecap="butt"/>
<circle cx="497.40" cy="49.10" r="1.60" fill="#fff" stroke="#000" stroke-width="0.7"/>
<text x="503.90" y="50.68" font-size="4.4" text-anchor="start" font-weight="normal" fill="#000" stroke="#000" stroke-width="0.22">D</text>
<line x1="492.30" y1="56.30" x2="502.20" y2="56.30" stroke="#444" stroke-width="0.8" stroke-dasharray="0.8,0.8" stroke-linecap="butt"/>
<circle cx="497.40" cy="56.30" r="1.60" fill="#000"/>
<text x="503.90" y="57.88" font-size="4.4" text-anchor="start" font-weight="normal" fill="#000" stroke="#000" stroke-width="0.22">A</text>
<line x1="492.30" y1="63.60" x2="502.20" y2="63.60" stroke="#000" stroke-width="1.6" stroke-linecap="butt"/>
<circle cx="497.40" cy="63.60" r="1.80" fill="#000"/>
<text x="503.90" y="65.18" font-size="4.4" text-anchor="start" font-weight="normal" fill="#000" stroke="#000" stroke-width="0.22">DA</text>
<line x1="27.30" y1="177.10" x2="84.00" y2="177.10" stroke="#d2d2d2" stroke-width="1" stroke-linecap="butt"/>
<line x1="27.30" y1="164.60" x2="84.00" y2="164.60" stroke="#d2d2d2" stroke-width="1" stroke-linecap="butt"/>
<line x1="27.30" y1="152.10" x2="84.00" y2="152.10" stroke="#d2d2d2" stroke-width="1" stroke-linecap="butt"/>
<line x1="27.30" y1="139.60" x2="84.00" y2="139.60" stroke="#d2d2d2" stroke-width="1" stroke-linecap="butt"/>
<line x1="27.30" y1="127.10" x2="84.00" y2="127.10" stroke="#d2d2d2" stroke-width="1" stroke-linecap="butt"/>
<line x1="27.30" y1="114.60" x2="84.00" y2="114.60" stroke="#d2d2d2" stroke-width="1" stroke-linecap="butt"/>
<line x1="27.30" y1="177.10" x2="27.30" y2="114.60" stroke="#b8b8b8" stroke-width="1" stroke-linecap="butt"/>
<text x="24.70" y="181.76" font-size="10.6" text-anchor="end" font-weight="normal" fill="#000" stroke="#000" stroke-width="0.18">8</text>
<text x="24.70" y="169.26" font-size="10.6" text-anchor="end" font-weight="normal" fill="#000" stroke="#000" stroke-width="0.18">10</text>
<text x="24.70" y="156.76" font-size="10.6" text-anchor="end" font-weight="normal" fill="#000" stroke="#000" stroke-width="0.18">12</text>
<text x="24.70" y="144.26" font-size="10.6" text-anchor="end" font-weight="normal" fill="#000" stroke="#000" stroke-width="0.18">14</text>
<text x="24.70" y="131.76" font-size="10.6" text-anchor="end" font-weight="normal" fill="#000" stroke="#000" stroke-width="0.18">16</text>
<text x="24.70" y="119.26" font-size="10.6" text-anchor="end" font-weight="normal" fill="#000" stroke="#000" stroke-width="0.18">18</text>
<text x="27.80" y="189.00" font-size="10.6" text-anchor="middle" font-weight="normal" fill="#000" stroke="#000" stroke-width="0.18">0</text>
<text x="46.60" y="189.00" font-size="10.6" text-anchor="middle" font-weight="normal" fill="#000" stroke="#000" stroke-width="0.18">10</text>
<text x="65.30" y="189.00" font-size="10.6" text-anchor="middle" font-weight="normal" fill="#000" stroke="#000" stroke-width="0.18">20</text>
<text x="83.70" y="189.00" font-size="10.6" text-anchor="middle" font-weight="normal" fill="#000" stroke="#000" stroke-width="0.18">30</text>
<text x="58.00" y="196.80" font-size="7.5" text-anchor="middle" font-weight="normal" fill="#000" stroke="#000" stroke-width="0.18" textLength="63.00" lengthAdjust="spacingAndGlyphs">Days post exposure</text>
<text transform="translate(8.10 146.50) rotate(-90)" font-size="6.9" text-anchor="middle" font-weight="normal" fill="#000" stroke="#000" stroke-width="0.18" textLength="46.00" lengthAdjust="spacingAndGlyphs">Hb (grams/dL)</text>
<line x1="42.70" y1="170.85" x2="42.70" y2="134.60" stroke="#ccc" stroke-width="0.8" stroke-linecap="butt"/>
<line x1="55.75" y1="155.22" x2="55.75" y2="134.60" stroke="#ccc" stroke-width="0.8" stroke-linecap="butt"/>
<line x1="68.79" y1="147.10" x2="68.79" y2="133.97" stroke="#ccc" stroke-width="0.8" stroke-linecap="butt"/>
<line x1="81.83" y1="147.10" x2="81.83" y2="134.60" stroke="#ccc" stroke-width="0.8" stroke-linecap="butt"/>
<polyline points="27.80,137.72 42.70,138.35 55.75,137.10 68.79,137.72 81.83,138.35" fill="none" stroke="#888" stroke-width="0.8" stroke-dasharray="1,1" stroke-linejoin="miter"/>
<circle cx="27.80" cy="137.72" r="1.70" fill="#fff" stroke="#000" stroke-width="0.8"/>
<circle cx="42.70" cy="138.35" r="1.70" fill="#fff" stroke="#000" stroke-width="0.8"/>
<circle cx="55.75" cy="137.10" r="1.70" fill="#fff" stroke="#000" stroke-width="0.8"/>
<circle cx="68.79" cy="137.72" r="1.70" fill="#fff" stroke="#000" stroke-width="0.8"/>
<circle cx="81.83" cy="138.35" r="1.70" fill="#fff" stroke="#000" stroke-width="0.8"/>
<polyline points="27.80,137.72 42.70,156.47 55.75,140.22 68.79,139.60 81.83,140.85" fill="none" stroke="#444" stroke-width="0.8" stroke-linejoin="miter"/>
<circle cx="27.80" cy="137.72" r="1.70" fill="#000"/>
<circle cx="42.70" cy="156.47" r="1.70" fill="#000"/>
<circle cx="55.75" cy="140.22" r="1.70" fill="#000"/>
<circle cx="68.79" cy="139.60" r="1.70" fill="#000"/>
<circle cx="81.83" cy="140.85" r="1.70" fill="#000"/>
<polyline points="27.80,137.72 42.70,138.35 55.75,137.72 68.79,137.72 81.83,139.60" fill="none" stroke="#000" stroke-width="1.3" stroke-linejoin="miter"/>
<circle cx="27.80" cy="137.72" r="1.70" fill="#fff" stroke="#000" stroke-width="0.8"/>
<circle cx="42.70" cy="138.35" r="1.70" fill="#fff" stroke="#000" stroke-width="0.8"/>
<circle cx="55.75" cy="137.72" r="1.70" fill="#fff" stroke="#000" stroke-width="0.8"/>
<circle cx="68.79" cy="137.72" r="1.70" fill="#fff" stroke="#000" stroke-width="0.8"/>
<circle cx="81.83" cy="139.60" r="1.70" fill="#fff" stroke="#000" stroke-width="0.8"/>
<polyline points="27.80,137.72 42.70,142.10 55.75,147.72 68.79,141.47 81.83,142.72" fill="none" stroke="#000" stroke-width="1.6" stroke-linejoin="miter"/>
<rect x="25.90" y="135.82" width="3.80" height="3.80" fill="#000"/>
<rect x="40.80" y="140.20" width="3.80" height="3.80" fill="#000"/>
<rect x="53.85" y="145.82" width="3.80" height="3.80" fill="#000"/>
<rect x="66.89" y="139.57" width="3.80" height="3.80" fill="#000"/>
<rect x="79.93" y="140.82" width="3.80" height="3.80" fill="#000"/>
<circle cx="42.70" cy="167.80" r="1.15" fill="#1a1a1a"/>
<circle cx="55.80" cy="155.80" r="1.15" fill="#1a1a1a"/>
<circle cx="68.80" cy="147.20" r="1.15" fill="#1a1a1a"/>
<line x1="88.40" y1="142.30" x2="97.60" y2="142.30" stroke="#444" stroke-width="0.8" stroke-dasharray="0.8,0.8" stroke-linecap="butt"/>
<circle cx="93.20" cy="142.30" r="1.60" fill="#fff" stroke="#000" stroke-width="0.7"/>
<text x="99.60" y="143.88" font-size="4.4" text-anchor="start" font-weight="normal" fill="#000" stroke="#000" stroke-width="0.22">PBS</text>
<line x1="88.40" y1="149.30" x2="97.60" y2="149.30" stroke="#000" stroke-width="1.0" stroke-linecap="butt"/>
<circle cx="93.20" cy="149.30" r="1.60" fill="#fff" stroke="#000" stroke-width="0.7"/>
<text x="99.60" y="150.88" font-size="4.4" text-anchor="start" font-weight="normal" fill="#000" stroke="#000" stroke-width="0.22">D</text>
<line x1="88.40" y1="156.80" x2="97.60" y2="156.80" stroke="#444" stroke-width="0.8" stroke-dasharray="0.8,0.8" stroke-linecap="butt"/>
<circle cx="93.20" cy="156.80" r="1.60" fill="#000"/>
<text x="99.60" y="158.38" font-size="4.4" text-anchor="start" font-weight="normal" fill="#000" stroke="#000" stroke-width="0.22">A</text>
<line x1="88.40" y1="164.00" x2="97.60" y2="164.00" stroke="#000" stroke-width="1.6" stroke-linecap="butt"/>
<circle cx="93.20" cy="164.00" r="1.80" fill="#000"/>
<text x="99.60" y="165.58" font-size="4.4" text-anchor="start" font-weight="normal" fill="#000" stroke="#000" stroke-width="0.22">DA</text>
<line x1="144.70" y1="177.40" x2="202.00" y2="177.40" stroke="#d2d2d2" stroke-width="1" stroke-linecap="butt"/>
<line x1="144.70" y1="167.07" x2="202.00" y2="167.07" stroke="#d2d2d2" stroke-width="1" stroke-linecap="butt"/>
<line x1="144.70" y1="156.73" x2="202.00" y2="156.73" stroke="#d2d2d2" stroke-width="1" stroke-linecap="butt"/>
<line x1="144.70" y1="146.40" x2="202.00" y2="146.40" stroke="#d2d2d2" stroke-width="1" stroke-linecap="butt"/>
<line x1="144.70" y1="136.07" x2="202.00" y2="136.07" stroke="#d2d2d2" stroke-width="1" stroke-linecap="butt"/>
<line x1="144.70" y1="125.73" x2="202.00" y2="125.73" stroke="#d2d2d2" stroke-width="1" stroke-linecap="butt"/>
<line x1="144.70" y1="115.40" x2="202.00" y2="115.40" stroke="#d2d2d2" stroke-width="1" stroke-linecap="butt"/>
<line x1="144.70" y1="177.40" x2="144.70" y2="115.40" stroke="#b8b8b8" stroke-width="1" stroke-linecap="butt"/>
<text x="142.70" y="182.06" font-size="10.6" text-anchor="end" font-weight="normal" fill="#000" stroke="#000" stroke-width="0.18">30</text>
<text x="142.70" y="171.73" font-size="10.6" text-anchor="end" font-weight="normal" fill="#000" stroke="#000" stroke-width="0.18">35</text>
<text x="142.70" y="161.40" font-size="10.6" text-anchor="end" font-weight="normal" fill="#000" stroke="#000" stroke-width="0.18">40</text>
<text x="142.70" y="151.06" font-size="10.6" text-anchor="end" font-weight="normal" fill="#000" stroke="#000" stroke-width="0.18">45</text>
<text x="142.70" y="140.73" font-size="10.6" text-anchor="end" font-weight="normal" fill="#000" stroke="#000" stroke-width="0.18">50</text>
<text x="142.70" y="130.40" font-size="10.6" text-anchor="end" font-weight="normal" fill="#000" stroke="#000" stroke-width="0.18">55</text>
<text x="142.70" y="120.06" font-size="10.6" text-anchor="end" font-weight="normal" fill="#000" stroke="#000" stroke-width="0.18">60</text>
<text x="145.50" y="189.00" font-size="10.6" text-anchor="middle" font-weight="normal" fill="#000" stroke="#000" stroke-width="0.18">0</text>
<text x="164.40" y="189.00" font-size="10.6" text-anchor="middle" font-weight="normal" fill="#000" stroke="#000" stroke-width="0.18">10</text>
<text x="183.00" y="189.00" font-size="10.6" text-anchor="middle" font-weight="normal" fill="#000" stroke="#000" stroke-width="0.18">20</text>
<text x="201.80" y="189.00" font-size="10.6" text-anchor="middle" font-weight="normal" fill="#000" stroke="#000" stroke-width="0.18">30</text>
<text x="175.20" y="196.80" font-size="7.5" text-anchor="middle" font-weight="normal" fill="#000" stroke="#000" stroke-width="0.18" textLength="63.00" lengthAdjust="spacingAndGlyphs">Days post exposure</text>
<text transform="translate(127.00 145.20) rotate(-90)" font-size="7.2" text-anchor="middle" font-weight="normal" fill="#000" stroke="#000" stroke-width="0.18" textLength="27.80" lengthAdjust="spacingAndGlyphs">HCT (%)</text>
<line x1="160.52" y1="176.37" x2="160.52" y2="139.17" stroke="#ccc" stroke-width="0.8" stroke-linecap="butt"/>
<line x1="173.66" y1="160.87" x2="173.66" y2="138.13" stroke="#ccc" stroke-width="0.8" stroke-linecap="butt"/>
<line x1="186.79" y1="152.60" x2="186.79" y2="140.20" stroke="#ccc" stroke-width="0.8" stroke-linecap="butt"/>
<line x1="199.93" y1="152.60" x2="199.93" y2="136.07" stroke="#ccc" stroke-width="0.8" stroke-linecap="butt"/>
<polyline points="145.50,142.06 160.52,141.65 173.66,144.33 186.79,145.37 199.93,144.75" fill="none" stroke="#888" stroke-width="0.8" stroke-linejoin="miter"/>
<circle cx="145.50" cy="142.06" r="1.70" fill="#fff" stroke="#000" stroke-width="0.8"/>
<circle cx="160.52" cy="141.65" r="1.70" fill="#fff" stroke="#000" stroke-width="0.8"/>
<circle cx="173.66" cy="144.33" r="1.70" fill="#fff" stroke="#000" stroke-width="0.8"/>
<circle cx="186.79" cy="145.37" r="1.70" fill="#fff" stroke="#000" stroke-width="0.8"/>
<circle cx="199.93" cy="144.75" r="1.70" fill="#fff" stroke="#000" stroke-width="0.8"/>
<polyline points="145.50,142.06 160.52,162.11 173.66,151.57 186.79,149.50 199.93,149.50" fill="none" stroke="#444" stroke-width="0.8" stroke-linejoin="miter"/>
<circle cx="145.50" cy="142.06" r="1.70" fill="#000"/>
<circle cx="160.52" cy="162.11" r="1.70" fill="#000"/>
<circle cx="173.66" cy="151.57" r="1.70" fill="#000"/>
<circle cx="186.79" cy="149.50" r="1.70" fill="#000"/>
<circle cx="199.93" cy="149.50" r="1.70" fill="#000"/>
<polyline points="145.50,142.06 160.52,146.19 173.66,151.57 186.79,149.50 199.93,149.50" fill="none" stroke="#000" stroke-width="1.5" stroke-linejoin="miter"/>
<rect x="143.70" y="140.26" width="3.60" height="3.60" fill="#000"/>
<rect x="158.72" y="144.39" width="3.60" height="3.60" fill="#000"/>
<rect x="171.85" y="149.77" width="3.60" height="3.60" fill="#000"/>
<rect x="184.99" y="147.70" width="3.60" height="3.60" fill="#000"/>
<rect x="198.13" y="147.70" width="3.60" height="3.60" fill="#000"/>
<polyline points="145.50,142.06 160.52,146.19 173.66,143.09 186.79,146.19 199.93,146.19" fill="none" stroke="#000" stroke-width="1.6" stroke-linejoin="miter"/>
<circle cx="145.50" cy="142.06" r="2.00" fill="#000"/>
<circle cx="160.52" cy="146.19" r="2.00" fill="#000"/>
<circle cx="173.66" cy="143.09" r="2.00" fill="#000"/>
<circle cx="186.79" cy="146.19" r="2.00" fill="#000"/>
<circle cx="199.93" cy="146.19" r="2.00" fill="#000"/>
<circle cx="160.50" cy="175.00" r="1.15" fill="#1a1a1a"/>
<circle cx="173.60" cy="160.60" r="1.15" fill="#1a1a1a"/>
<line x1="206.00" y1="142.60" x2="215.70" y2="142.60" stroke="#444" stroke-width="0.8" stroke-dasharray="0.8,0.8" stroke-linecap="butt"/>
<circle cx="211.20" cy="142.60" r="1.60" fill="#fff" stroke="#000" stroke-width="0.7"/>
<text x="217.10" y="144.18" font-size="4.4" text-anchor="start" font-weight="normal" fill="#000" stroke="#000" stroke-width="0.22">PBS</text>
<line x1="206.00" y1="149.80" x2="215.70" y2="149.80" stroke="#000" stroke-width="1.0" stroke-linecap="butt"/>
<circle cx="211.20" cy="149.80" r="1.60" fill="#fff" stroke="#000" stroke-width="0.7"/>
<text x="217.10" y="151.38" font-size="4.4" text-anchor="start" font-weight="normal" fill="#000" stroke="#000" stroke-width="0.22">D</text>
<line x1="206.00" y1="157.20" x2="215.70" y2="157.20" stroke="#444" stroke-width="0.8" stroke-dasharray="0.8,0.8" stroke-linecap="butt"/>
<circle cx="211.20" cy="157.20" r="1.60" fill="#000"/>
<text x="217.10" y="158.78" font-size="4.4" text-anchor="start" font-weight="normal" fill="#000" stroke="#000" stroke-width="0.22">A</text>
<line x1="206.00" y1="164.20" x2="215.70" y2="164.20" stroke="#000" stroke-width="1.6" stroke-linecap="butt"/>
<circle cx="211.20" cy="164.20" r="1.80" fill="#000"/>
<text x="217.10" y="165.78" font-size="4.4" text-anchor="start" font-weight="normal" fill="#000" stroke="#000" stroke-width="0.22">DA</text>
<line x1="268.50" y1="177.10" x2="325.30" y2="177.10" stroke="#d2d2d2" stroke-width="1" stroke-linecap="butt"/>
<line x1="268.50" y1="166.85" x2="325.30" y2="166.85" stroke="#d2d2d2" stroke-width="1" stroke-linecap="butt"/>
<line x1="268.50" y1="156.60" x2="325.30" y2="156.60" stroke="#d2d2d2" stroke-width="1" stroke-linecap="butt"/>
<line x1="268.50" y1="146.35" x2="325.30" y2="146.35" stroke="#d2d2d2" stroke-width="1" stroke-linecap="butt"/>
<line x1="268.50" y1="136.10" x2="325.30" y2="136.10" stroke="#d2d2d2" stroke-width="1" stroke-linecap="butt"/>
<line x1="268.50" y1="125.85" x2="325.30" y2="125.85" stroke="#d2d2d2" stroke-width="1" stroke-linecap="butt"/>
<line x1="268.50" y1="115.60" x2="325.30" y2="115.60" stroke="#d2d2d2" stroke-width="1" stroke-linecap="butt"/>
<line x1="268.50" y1="177.10" x2="268.50" y2="115.60" stroke="#b8b8b8" stroke-width="1" stroke-linecap="butt"/>
<text x="265.90" y="181.76" font-size="10.6" text-anchor="end" font-weight="normal" fill="#000" stroke="#000" stroke-width="0.18">0.0</text>
<text x="265.90" y="171.51" font-size="10.6" text-anchor="end" font-weight="normal" fill="#000" stroke="#000" stroke-width="0.18">0.5</text>
<text x="265.90" y="161.26" font-size="10.6" text-anchor="end" font-weight="normal" fill="#000" stroke="#000" stroke-width="0.18">1.0</text>
<text x="265.90" y="151.01" font-size="10.6" text-anchor="end" font-weight="normal" fill="#000" stroke="#000" stroke-width="0.18">1.5</text>
<text x="265.90" y="140.76" font-size="10.6" text-anchor="end" font-weight="normal" fill="#000" stroke="#000" stroke-width="0.18">2.0</text>
<text x="265.90" y="130.51" font-size="10.6" text-anchor="end" font-weight="normal" fill="#000" stroke="#000" stroke-width="0.18">2.5</text>
<text x="265.90" y="120.26" font-size="10.6" text-anchor="end" font-weight="normal" fill="#000" stroke="#000" stroke-width="0.18">3.0</text>
<text x="269.40" y="189.00" font-size="10.6" text-anchor="middle" font-weight="normal" fill="#000" stroke="#000" stroke-width="0.18">0</text>
<text x="288.30" y="189.00" font-size="10.6" text-anchor="middle" font-weight="normal" fill="#000" stroke="#000" stroke-width="0.18">10</text>
<text x="306.90" y="189.00" font-size="10.6" text-anchor="middle" font-weight="normal" fill="#000" stroke="#000" stroke-width="0.18">20</text>
<text x="325.70" y="189.00" font-size="10.6" text-anchor="middle" font-weight="normal" fill="#000" stroke="#000" stroke-width="0.18">30</text>
<text x="299.10" y="196.80" font-size="7.5" text-anchor="middle" font-weight="normal" fill="#000" stroke="#000" stroke-width="0.18" textLength="63.00" lengthAdjust="spacingAndGlyphs">Days post exposure</text>
<text transform="translate(247.00 146.70) rotate(-90)" font-size="6.6" text-anchor="middle" font-weight="normal" fill="#000" stroke="#000" stroke-width="0.18" textLength="66.50" lengthAdjust="spacingAndGlyphs">Platelets (millions/uL)</text>
<line x1="284.42" y1="176.07" x2="284.42" y2="144.30" stroke="#ccc" stroke-width="0.8" stroke-linecap="butt"/>
<line x1="297.55" y1="144.30" x2="297.55" y2="123.80" stroke="#ccc" stroke-width="0.8" stroke-linecap="butt"/>
<line x1="310.69" y1="152.50" x2="310.69" y2="140.20" stroke="#ccc" stroke-width="0.8" stroke-linecap="butt"/>
<line x1="323.83" y1="156.60" x2="323.83" y2="150.45" stroke="#ccc" stroke-width="0.8" stroke-linecap="butt"/>
<polyline points="269.40,151.60 284.42,147.70 297.55,149.10 310.69,149.10 323.83,154.14" fill="none" stroke="#888" stroke-width="0.8" stroke-linejoin="miter"/>
<circle cx="269.40" cy="151.60" r="1.70" fill="#fff" stroke="#000" stroke-width="0.8"/>
<circle cx="284.42" cy="147.70" r="1.70" fill="#fff" stroke="#000" stroke-width="0.8"/>
<circle cx="297.55" cy="149.10" r="1.70" fill="#fff" stroke="#000" stroke-width="0.8"/>
<circle cx="310.69" cy="149.10" r="1.70" fill="#fff" stroke="#000" stroke-width="0.8"/>
<circle cx="323.83" cy="154.14" r="1.70" fill="#fff" stroke="#000" stroke-width="0.8"/>
<polyline points="269.40,151.60 284.42,161.52 297.55,148.40 310.69,147.38 323.83,154.14" fill="none" stroke="#444" stroke-width="0.8" stroke-linejoin="miter"/>
<circle cx="269.40" cy="151.60" r="1.70" fill="#000"/>
<circle cx="284.42" cy="161.52" r="1.70" fill="#000"/>
<circle cx="297.55" cy="148.40" r="1.70" fill="#000"/>
<circle cx="310.69" cy="147.38" r="1.70" fill="#000"/>
<circle cx="323.83" cy="154.14" r="1.70" fill="#000"/>
<polyline points="269.40,151.60 284.42,152.60 297.55,149.10 310.69,146.21 323.83,154.00" fill="none" stroke="#000" stroke-width="1.3" stroke-linejoin="miter"/>
<circle cx="269.40" cy="151.60" r="1.70" fill="#fff" stroke="#000" stroke-width="0.8"/>
<circle cx="284.42" cy="152.60" r="1.70" fill="#fff" stroke="#000" stroke-width="0.8"/>
<circle cx="297.55" cy="149.10" r="1.70" fill="#fff" stroke="#000" stroke-width="0.8"/>
<circle cx="310.69" cy="146.21" r="1.70" fill="#fff" stroke="#000" stroke-width="0.8"/>
<circle cx="323.83" cy="154.00" r="1.70" fill="#fff" stroke="#000" stroke-width="0.8"/>
<polyline points="269.40,151.60 284.42,170.99 297.55,135.61 310.69,146.21 323.83,154.00" fill="none" stroke="#000" stroke-width="1.6" stroke-linejoin="miter"/>
<rect x="267.50" y="149.70" width="3.80" height="3.80" fill="#000"/>
<rect x="282.52" y="169.09" width="3.80" height="3.80" fill="#000"/>
<rect x="295.65" y="133.71" width="3.80" height="3.80" fill="#000"/>
<rect x="308.79" y="144.31" width="3.80" height="3.80" fill="#000"/>
<rect x="321.93" y="152.10" width="3.80" height="3.80" fill="#000"/>
<circle cx="284.40" cy="175.00" r="1.15" fill="#1a1a1a"/>
<circle cx="297.60" cy="121.70" r="1.15" fill="#1a1a1a"/>
<circle cx="297.60" cy="125.30" r="1.15" fill="#1a1a1a"/>
<line x1="328.30" y1="142.10" x2="338.20" y2="142.10" stroke="#444" stroke-width="0.8" stroke-dasharray="0.8,0.8" stroke-linecap="butt"/>
<circle cx="333.40" cy="142.10" r="1.60" fill="#fff" stroke="#000" stroke-width="0.7"/>
<text x="339.10" y="143.68" font-size="4.4" text-anchor="start" font-weight="normal" fill="#000" stroke="#000" stroke-width="0.22">PBS</text>
<line x1="328.30" y1="149.30" x2="338.20" y2="149.30" stroke="#000" stroke-width="1.0" stroke-linecap="butt"/>
<circle cx="333.40" cy="149.30" r="1.60" fill="#fff" stroke="#000" stroke-width="0.7"/>
<text x="339.10" y="150.88" font-size="4.4" text-anchor="start" font-weight="normal" fill="#000" stroke="#000" stroke-width="0.22">D</text>
<line x1="328.30" y1="156.60" x2="338.20" y2="156.60" stroke="#444" stroke-width="0.8" stroke-dasharray="0.8,0.8" stroke-linecap="butt"/>
<circle cx="333.40" cy="156.60" r="1.60" fill="#000"/>
<text x="339.10" y="158.18" font-size="4.4" text-anchor="start" font-weight="normal" fill="#000" stroke="#000" stroke-width="0.22">A</text>
<line x1="328.30" y1="163.80" x2="338.20" y2="163.80" stroke="#000" stroke-width="1.6" stroke-linecap="butt"/>
<circle cx="333.40" cy="163.80" r="1.80" fill="#000"/>
<text x="339.10" y="165.38" font-size="4.4" text-anchor="start" font-weight="normal" fill="#000" stroke="#000" stroke-width="0.22">DA</text>
<line x1="391.30" y1="180.40" x2="517.60" y2="180.40" stroke="#b8b8b8" stroke-width="1" stroke-linecap="butt"/>
<text transform="translate(386.40 184.85) scale(0.95 1)" font-size="10.6" text-anchor="end" font-weight="normal" fill="#000" stroke="#000" stroke-width="0.18">0.0</text>
<line x1="388.50" y1="180.40" x2="391.30" y2="180.40" stroke="#333" stroke-width="0.9" stroke-linecap="butt"/>
<line x1="391.30" y1="169.55" x2="517.60" y2="169.55" stroke="#333" stroke-width="1" stroke-linecap="butt"/>
<text transform="translate(386.40 174.00) scale(0.95 1)" font-size="10.6" text-anchor="end" font-weight="normal" fill="#000" stroke="#000" stroke-width="0.18">0.2</text>
<line x1="388.50" y1="169.55" x2="391.30" y2="169.55" stroke="#333" stroke-width="0.9" stroke-linecap="butt"/>
<line x1="391.30" y1="158.70" x2="517.60" y2="158.70" stroke="#333" stroke-width="1" stroke-linecap="butt"/>
<text transform="translate(386.40 163.15) scale(0.95 1)" font-size="10.6" text-anchor="end" font-weight="normal" fill="#000" stroke="#000" stroke-width="0.18">0.4</text>
<line x1="388.50" y1="158.70" x2="391.30" y2="158.70" stroke="#333" stroke-width="0.9" stroke-linecap="butt"/>
<line x1="391.30" y1="147.85" x2="517.60" y2="147.85" stroke="#333" stroke-width="1" stroke-linecap="butt"/>
<text transform="translate(386.40 152.30) scale(0.95 1)" font-size="10.6" text-anchor="end" font-weight="normal" fill="#000" stroke="#000" stroke-width="0.18">0.6</text>
<line x1="388.50" y1="147.85" x2="391.30" y2="147.85" stroke="#333" stroke-width="0.9" stroke-linecap="butt"/>
<line x1="391.30" y1="137.00" x2="517.60" y2="137.00" stroke="#333" stroke-width="1" stroke-linecap="butt"/>
<text transform="translate(386.40 141.45) scale(0.95 1)" font-size="10.6" text-anchor="end" font-weight="normal" fill="#000" stroke="#000" stroke-width="0.18">0.8</text>
<line x1="388.50" y1="137.00" x2="391.30" y2="137.00" stroke="#333" stroke-width="0.9" stroke-linecap="butt"/>
<line x1="391.30" y1="126.15" x2="517.60" y2="126.15" stroke="#333" stroke-width="1" stroke-linecap="butt"/>
<text transform="translate(386.40 130.60) scale(0.95 1)" font-size="10.6" text-anchor="end" font-weight="normal" fill="#000" stroke="#000" stroke-width="0.18">1.0</text>
<line x1="388.50" y1="126.15" x2="391.30" y2="126.15" stroke="#333" stroke-width="0.9" stroke-linecap="butt"/>
<line x1="391.30" y1="115.30" x2="517.60" y2="115.30" stroke="#c8c8c8" stroke-width="1" stroke-linecap="butt"/>
<text transform="translate(386.40 119.75) scale(0.95 1)" font-size="10.6" text-anchor="end" font-weight="normal" fill="#000" stroke="#000" stroke-width="0.18">1.2</text>
<line x1="388.50" y1="115.30" x2="391.30" y2="115.30" stroke="#333" stroke-width="0.9" stroke-linecap="butt"/>
<line x1="391.30" y1="180.40" x2="391.30" y2="115.30" stroke="#333" stroke-width="1" stroke-linecap="butt"/>
<rect x="399.60" y="126.15" width="9.70" height="54.25" fill="#b0b0b0" stroke="#5e5e5e" stroke-width="0.8"/>
<line x1="404.45" y1="132.12" x2="404.45" y2="120.18" stroke="#333" stroke-width="0.8" stroke-linecap="butt"/>
<line x1="402.95" y1="132.12" x2="405.95" y2="132.12" stroke="#333" stroke-width="0.8" stroke-linecap="butt"/>
<line x1="402.95" y1="120.18" x2="405.95" y2="120.18" stroke="#333" stroke-width="0.8" stroke-linecap="butt"/>
<rect x="424.40" y="129.95" width="10.10" height="50.45" fill="#b0b0b0" stroke="#5e5e5e" stroke-width="0.8"/>
<line x1="429.45" y1="134.29" x2="429.45" y2="125.61" stroke="#333" stroke-width="0.8" stroke-linecap="butt"/>
<line x1="427.95" y1="134.29" x2="430.95" y2="134.29" stroke="#333" stroke-width="0.8" stroke-linecap="butt"/>
<line x1="427.95" y1="125.61" x2="430.95" y2="125.61" stroke="#333" stroke-width="0.8" stroke-linecap="butt"/>
<rect x="449.50" y="140.25" width="10.50" height="40.15" fill="#b0b0b0" stroke="#5e5e5e" stroke-width="0.8"/>
<line x1="454.75" y1="144.59" x2="454.75" y2="135.37" stroke="#333" stroke-width="0.8" stroke-linecap="butt"/>
<line x1="453.25" y1="144.59" x2="456.25" y2="144.59" stroke="#333" stroke-width="0.8" stroke-linecap="butt"/>
<line x1="453.25" y1="135.37" x2="456.25" y2="135.37" stroke="#333" stroke-width="0.8" stroke-linecap="butt"/>
<rect x="475.00" y="147.85" width="10.50" height="32.55" fill="#b0b0b0" stroke="#5e5e5e" stroke-width="0.8"/>
<line x1="480.25" y1="154.90" x2="480.25" y2="140.80" stroke="#333" stroke-width="0.8" stroke-linecap="butt"/>
<line x1="478.75" y1="154.90" x2="481.75" y2="154.90" stroke="#333" stroke-width="0.8" stroke-linecap="butt"/>
<line x1="478.75" y1="140.80" x2="481.75" y2="140.80" stroke="#333" stroke-width="0.8" stroke-linecap="butt"/>
<rect x="500.30" y="159.24" width="11.00" height="21.16" fill="#b0b0b0" stroke="#5e5e5e" stroke-width="0.8"/>
<line x1="505.80" y1="169.55" x2="505.80" y2="147.85" stroke="#333" stroke-width="0.8" stroke-linecap="butt"/>
<line x1="504.30" y1="169.55" x2="507.30" y2="169.55" stroke="#333" stroke-width="0.8" stroke-linecap="butt"/>
<line x1="504.30" y1="147.85" x2="507.30" y2="147.85" stroke="#333" stroke-width="0.8" stroke-linecap="butt"/>
<text x="403.80" y="191.70" font-size="10.4" text-anchor="middle" font-weight="normal" fill="#000" stroke="#000" stroke-width="0.18">PBS</text>
<text x="429.30" y="191.70" font-size="10.4" text-anchor="middle" font-weight="normal" fill="#000" stroke="#000" stroke-width="0.18">D</text>
<text x="454.60" y="191.70" font-size="10.4" text-anchor="middle" font-weight="normal" fill="#000" stroke="#000" stroke-width="0.18">D</text>
<text x="480.00" y="191.70" font-size="10.4" text-anchor="middle" font-weight="normal" fill="#000" stroke="#000" stroke-width="0.18">A</text>
<text x="505.50" y="191.70" font-size="10.4" text-anchor="middle" font-weight="normal" fill="#000" stroke="#000" stroke-width="0.18">DA</text>
<text x="453.60" y="198.30" font-size="6.4" text-anchor="middle" font-weight="normal" fill="#000" stroke="#000" stroke-width="0.18" textLength="18.00" lengthAdjust="spacingAndGlyphs">(day6)</text>
<line x1="517.60" y1="115.30" x2="517.60" y2="180.40" stroke="#666" stroke-width="0.9" stroke-linecap="butt"/>
<text transform="translate(368.60 144.20) rotate(-90)" font-size="6.5" text-anchor="middle" font-weight="normal" fill="#000" stroke="#000" stroke-width="0.18" textLength="63.50" lengthAdjust="spacingAndGlyphs">Relative BM cellularity</text>
<text x="455.50" y="127.00" font-size="11.5" text-anchor="middle" font-weight="normal" fill="#000" stroke="#000" stroke-width="0.5">*</text>
<text x="480.50" y="137.00" font-size="11.5" text-anchor="middle" font-weight="normal" fill="#000" stroke="#000" stroke-width="0.5">*</text>
<text x="505.50" y="147.50" font-size="11.5" text-anchor="middle" font-weight="normal" fill="#000" stroke="#000" stroke-width="0.5">*</text>
<line x1="29.20" y1="276.40" x2="83.00" y2="276.40" stroke="#b8b8b8" stroke-width="1" stroke-linecap="butt"/>
<text x="25.00" y="280.85" font-size="10.6" text-anchor="end" font-weight="normal" fill="#000" stroke="#000" stroke-width="0.18">0</text>
<line x1="26.40" y1="276.40" x2="29.20" y2="276.40" stroke="#999" stroke-width="0.9" stroke-linecap="butt"/>
<line x1="29.20" y1="261.05" x2="83.00" y2="261.05" stroke="#d2d2d2" stroke-width="1" stroke-linecap="butt"/>
<text x="25.00" y="265.50" font-size="10.6" text-anchor="end" font-weight="normal" fill="#000" stroke="#000" stroke-width="0.18">10</text>
<line x1="26.40" y1="261.05" x2="29.20" y2="261.05" stroke="#999" stroke-width="0.9" stroke-linecap="butt"/>
<line x1="29.20" y1="245.70" x2="83.00" y2="245.70" stroke="#d2d2d2" stroke-width="1" stroke-linecap="butt"/>
<text x="25.00" y="250.15" font-size="10.6" text-anchor="end" font-weight="normal" fill="#000" stroke="#000" stroke-width="0.18">20</text>
<line x1="26.40" y1="245.70" x2="29.20" y2="245.70" stroke="#999" stroke-width="0.9" stroke-linecap="butt"/>
<line x1="29.20" y1="230.35" x2="83.00" y2="230.35" stroke="#d2d2d2" stroke-width="1" stroke-linecap="butt"/>
<text x="25.00" y="234.80" font-size="10.6" text-anchor="end" font-weight="normal" fill="#000" stroke="#000" stroke-width="0.18">30</text>
<line x1="26.40" y1="230.35" x2="29.20" y2="230.35" stroke="#999" stroke-width="0.9" stroke-linecap="butt"/>
<line x1="29.20" y1="215.00" x2="83.00" y2="215.00" stroke="#d2d2d2" stroke-width="1" stroke-linecap="butt"/>
<text x="25.00" y="219.45" font-size="10.6" text-anchor="end" font-weight="normal" fill="#000" stroke="#000" stroke-width="0.18">40</text>
<line x1="26.40" y1="215.00" x2="29.20" y2="215.00" stroke="#999" stroke-width="0.9" stroke-linecap="butt"/>
<line x1="29.20" y1="276.40" x2="29.20" y2="215.00" stroke="#b8b8b8" stroke-width="1" stroke-linecap="butt"/>
<rect x="37.10" y="264.43" width="11.80" height="11.97" fill="#b0b0b0" stroke="#5e5e5e" stroke-width="0.8"/>
<line x1="43.00" y1="267.96" x2="43.00" y2="260.74" stroke="#555" stroke-width="0.8" stroke-linecap="butt"/>
<line x1="41.50" y1="267.96" x2="44.50" y2="267.96" stroke="#555" stroke-width="0.8" stroke-linecap="butt"/>
<line x1="41.50" y1="260.74" x2="44.50" y2="260.74" stroke="#555" stroke-width="0.8" stroke-linecap="butt"/>
<rect x="65.10" y="231.88" width="10.90" height="44.51" fill="#b0b0b0" stroke="#5e5e5e" stroke-width="0.8"/>
<line x1="70.55" y1="244.93" x2="70.55" y2="218.84" stroke="#555" stroke-width="0.8" stroke-linecap="butt"/>
<line x1="69.05" y1="244.93" x2="72.05" y2="244.93" stroke="#555" stroke-width="0.8" stroke-linecap="butt"/>
<line x1="69.05" y1="218.84" x2="72.05" y2="218.84" stroke="#555" stroke-width="0.8" stroke-linecap="butt"/>
<text x="43.30" y="287.30" font-size="10.6" text-anchor="middle" font-weight="normal" fill="#000" stroke="#000" stroke-width="0.18">PBS</text>
<text x="70.00" y="287.30" font-size="10.6" text-anchor="middle" font-weight="normal" fill="#000" stroke="#000" stroke-width="0.18">DA</text>
<circle cx="70.70" cy="216.10" r="0.95" fill="#1a1a1a"/>
<text transform="translate(10.20 243.20) rotate(-90)" font-size="7.0" text-anchor="middle" font-weight="normal" fill="#000" stroke="#000" stroke-width="0.18" textLength="57.50" lengthAdjust="spacingAndGlyphs">Lin- BM Percentage</text>
<line x1="143.80" y1="276.90" x2="190.20" y2="276.90" stroke="#b8b8b8" stroke-width="1" stroke-linecap="butt"/>
<text x="140.50" y="281.35" font-size="10.6" text-anchor="end" font-weight="normal" fill="#000" stroke="#000" stroke-width="0.18">0</text>
<line x1="141.00" y1="276.90" x2="143.80" y2="276.90" stroke="#999" stroke-width="0.9" stroke-linecap="butt"/>
<line x1="143.80" y1="264.60" x2="190.20" y2="264.60" stroke="#d2d2d2" stroke-width="1" stroke-linecap="butt"/>
<text x="140.50" y="269.05" font-size="10.6" text-anchor="end" font-weight="normal" fill="#000" stroke="#000" stroke-width="0.18">2000</text>
<line x1="141.00" y1="264.60" x2="143.80" y2="264.60" stroke="#999" stroke-width="0.9" stroke-linecap="butt"/>
<line x1="143.80" y1="252.30" x2="190.20" y2="252.30" stroke="#d2d2d2" stroke-width="1" stroke-linecap="butt"/>
<text x="140.50" y="256.75" font-size="10.6" text-anchor="end" font-weight="normal" fill="#000" stroke="#000" stroke-width="0.18">4000</text>
<line x1="141.00" y1="252.30" x2="143.80" y2="252.30" stroke="#999" stroke-width="0.9" stroke-linecap="butt"/>
<line x1="143.80" y1="240.00" x2="190.20" y2="240.00" stroke="#d2d2d2" stroke-width="1" stroke-linecap="butt"/>
<text x="140.50" y="244.45" font-size="10.6" text-anchor="end" font-weight="normal" fill="#000" stroke="#000" stroke-width="0.18">6000</text>
<line x1="141.00" y1="240.00" x2="143.80" y2="240.00" stroke="#999" stroke-width="0.9" stroke-linecap="butt"/>
<line x1="143.80" y1="227.70" x2="190.20" y2="227.70" stroke="#d2d2d2" stroke-width="1" stroke-linecap="butt"/>
<text x="140.50" y="232.15" font-size="10.6" text-anchor="end" font-weight="normal" fill="#000" stroke="#000" stroke-width="0.18">8000</text>
<line x1="141.00" y1="227.70" x2="143.80" y2="227.70" stroke="#999" stroke-width="0.9" stroke-linecap="butt"/>
<line x1="143.80" y1="215.40" x2="190.20" y2="215.40" stroke="#d2d2d2" stroke-width="1" stroke-linecap="butt"/>
<text x="140.50" y="219.85" font-size="10.6" text-anchor="end" font-weight="normal" fill="#000" stroke="#000" stroke-width="0.18">10000</text>
<line x1="141.00" y1="215.40" x2="143.80" y2="215.40" stroke="#999" stroke-width="0.9" stroke-linecap="butt"/>
<line x1="143.80" y1="276.90" x2="143.80" y2="215.40" stroke="#b8b8b8" stroke-width="1" stroke-linecap="butt"/>
<rect x="150.70" y="260.60" width="10.00" height="16.30" fill="#b0b0b0" stroke="#5e5e5e" stroke-width="0.8"/>
<line x1="155.70" y1="262.75" x2="155.70" y2="256.30" stroke="#555" stroke-width="0.8" stroke-linecap="butt"/>
<line x1="154.20" y1="262.75" x2="157.20" y2="262.75" stroke="#555" stroke-width="0.8" stroke-linecap="butt"/>
<line x1="154.20" y1="256.30" x2="157.20" y2="256.30" stroke="#555" stroke-width="0.8" stroke-linecap="butt"/>
<rect x="173.90" y="234.47" width="9.80" height="42.43" fill="#b0b0b0" stroke="#5e5e5e" stroke-width="0.8"/>
<line x1="178.80" y1="245.53" x2="178.80" y2="224.32" stroke="#555" stroke-width="0.8" stroke-linecap="butt"/>
<line x1="177.30" y1="245.53" x2="180.30" y2="245.53" stroke="#555" stroke-width="0.8" stroke-linecap="butt"/>
<line x1="177.30" y1="224.32" x2="180.30" y2="224.32" stroke="#555" stroke-width="0.8" stroke-linecap="butt"/>
<text x="156.00" y="287.30" font-size="10.6" text-anchor="middle" font-weight="normal" fill="#000" stroke="#000" stroke-width="0.18">PBS</text>
<text x="177.70" y="287.30" font-size="10.6" text-anchor="middle" font-weight="normal" fill="#000" stroke="#000" stroke-width="0.18">DA</text>
<circle cx="178.60" cy="219.40" r="0.95" fill="#1a1a1a"/>
<text transform="translate(108.10 246.70) rotate(-90)" font-size="7.0" text-anchor="middle" font-weight="normal" fill="#000" stroke="#000" stroke-width="0.18" textLength="61.00" lengthAdjust="spacingAndGlyphs">LSK per million BM</text>
<line x1="237.00" y1="277.90" x2="293.70" y2="277.90" stroke="#b8b8b8" stroke-width="1" stroke-linecap="butt"/>
<text x="233.00" y="282.35" font-size="10.6" text-anchor="end" font-weight="normal" fill="#000" stroke="#000" stroke-width="0.18">0</text>
<line x1="234.20" y1="277.90" x2="237.00" y2="277.90" stroke="#999" stroke-width="0.9" stroke-linecap="butt"/>
<line x1="237.00" y1="267.55" x2="293.70" y2="267.55" stroke="#d2d2d2" stroke-width="1" stroke-linecap="butt"/>
<text x="233.00" y="272.00" font-size="10.6" text-anchor="end" font-weight="normal" fill="#000" stroke="#000" stroke-width="0.18">10</text>
<line x1="234.20" y1="267.55" x2="237.00" y2="267.55" stroke="#999" stroke-width="0.9" stroke-linecap="butt"/>
<line x1="237.00" y1="257.20" x2="293.70" y2="257.20" stroke="#d2d2d2" stroke-width="1" stroke-linecap="butt"/>
<text x="233.00" y="261.65" font-size="10.6" text-anchor="end" font-weight="normal" fill="#000" stroke="#000" stroke-width="0.18">20</text>
<line x1="234.20" y1="257.20" x2="237.00" y2="257.20" stroke="#999" stroke-width="0.9" stroke-linecap="butt"/>
<line x1="237.00" y1="246.85" x2="293.70" y2="246.85" stroke="#d2d2d2" stroke-width="1" stroke-linecap="butt"/>
<text x="233.00" y="251.30" font-size="10.6" text-anchor="end" font-weight="normal" fill="#000" stroke="#000" stroke-width="0.18">30</text>
<line x1="234.20" y1="246.85" x2="237.00" y2="246.85" stroke="#999" stroke-width="0.9" stroke-linecap="butt"/>
<line x1="237.00" y1="236.50" x2="293.70" y2="236.50" stroke="#d2d2d2" stroke-width="1" stroke-linecap="butt"/>
<text x="233.00" y="240.95" font-size="10.6" text-anchor="end" font-weight="normal" fill="#000" stroke="#000" stroke-width="0.18">40</text>
<line x1="234.20" y1="236.50" x2="237.00" y2="236.50" stroke="#999" stroke-width="0.9" stroke-linecap="butt"/>
<line x1="237.00" y1="226.15" x2="293.70" y2="226.15" stroke="#d2d2d2" stroke-width="1" stroke-linecap="butt"/>
<text x="233.00" y="230.60" font-size="10.6" text-anchor="end" font-weight="normal" fill="#000" stroke="#000" stroke-width="0.18">50</text>
<line x1="234.20" y1="226.15" x2="237.00" y2="226.15" stroke="#999" stroke-width="0.9" stroke-linecap="butt"/>
<line x1="237.00" y1="215.80" x2="293.70" y2="215.80" stroke="#d2d2d2" stroke-width="1" stroke-linecap="butt"/>
<text x="233.00" y="220.25" font-size="10.6" text-anchor="end" font-weight="normal" fill="#000" stroke="#000" stroke-width="0.18">60</text>
<line x1="234.20" y1="215.80" x2="237.00" y2="215.80" stroke="#999" stroke-width="0.9" stroke-linecap="butt"/>
<line x1="237.00" y1="277.90" x2="237.00" y2="215.80" stroke="#b8b8b8" stroke-width="1" stroke-linecap="butt"/>
<rect x="245.10" y="236.19" width="12.30" height="41.71" fill="#b0b0b0" stroke="#5e5e5e" stroke-width="0.8"/>
<line x1="251.25" y1="247.37" x2="251.25" y2="224.60" stroke="#555" stroke-width="0.8" stroke-linecap="butt"/>
<line x1="249.75" y1="247.37" x2="252.75" y2="247.37" stroke="#555" stroke-width="0.8" stroke-linecap="butt"/>
<line x1="249.75" y1="224.60" x2="252.75" y2="224.60" stroke="#555" stroke-width="0.8" stroke-linecap="butt"/>
<rect x="273.60" y="250.99" width="11.30" height="26.91" fill="#b0b0b0" stroke="#5e5e5e" stroke-width="0.8"/>
<line x1="279.25" y1="266.00" x2="279.25" y2="234.95" stroke="#555" stroke-width="0.8" stroke-linecap="butt"/>
<line x1="277.75" y1="266.00" x2="280.75" y2="266.00" stroke="#555" stroke-width="0.8" stroke-linecap="butt"/>
<line x1="277.75" y1="234.95" x2="280.75" y2="234.95" stroke="#555" stroke-width="0.8" stroke-linecap="butt"/>
<text x="251.20" y="287.80" font-size="10.6" text-anchor="middle" font-weight="normal" fill="#000" stroke="#000" stroke-width="0.18">PBS</text>
<text x="278.60" y="287.80" font-size="10.6" text-anchor="middle" font-weight="normal" fill="#000" stroke="#000" stroke-width="0.18">DA</text>
<text x="279.00" y="225.60" font-size="8.4" text-anchor="middle" font-weight="normal" fill="#000" stroke="#000" stroke-width="0.18" textLength="12.00" lengthAdjust="spacingAndGlyphs">NS</text>
<text transform="translate(215.60 246.20) rotate(-90)" font-size="7.1" text-anchor="middle" font-weight="normal" fill="#000" stroke="#000" stroke-width="0.18" textLength="45.00" lengthAdjust="spacingAndGlyphs">LSK per femur</text>
<defs><filter id="bl" x="-50%" y="-50%" width="200%" height="200%"><feGaussianBlur stdDeviation="0.9"/></filter><filter id="bl2" x="-50%" y="-50%" width="200%" height="200%"><feGaussianBlur stdDeviation="0.5"/></filter></defs>
<text x="376.00" y="223.50" font-size="10.6" text-anchor="middle" font-weight="normal" fill="#000" stroke="#000" stroke-width="0.18" textLength="50.00" lengthAdjust="spacingAndGlyphs">LSK - PBS</text>
<rect x="348.60" y="225.80" width="56.40" height="55.40" fill="none" stroke="#a0a0a0" stroke-width="0.8"/>
<text transform="translate(341.20 256.50) rotate(-90)" font-size="7.6" text-anchor="middle" font-weight="normal" fill="#000" stroke="#000" stroke-width="0.18" textLength="39.20" lengthAdjust="spacingAndGlyphs">BrdU - v450</text>
<text x="376.80" y="293.20" font-size="7.6" text-anchor="middle" font-weight="normal" fill="#000" stroke="#000" stroke-width="0.18" textLength="21.50" lengthAdjust="spacingAndGlyphs">7-AAD</text>
<text x="346.10" y="231.79" font-size="3.2" text-anchor="end" font-weight="normal" fill="#888">10</text>
<text x="346.10" y="243.97" font-size="3.2" text-anchor="end" font-weight="normal" fill="#888">10</text>
<text x="346.10" y="256.16" font-size="3.2" text-anchor="end" font-weight="normal" fill="#888">10</text>
<text x="346.10" y="268.90" font-size="3.2" text-anchor="end" font-weight="normal" fill="#888">10</text>
<text x="346.10" y="276.66" font-size="3.2" text-anchor="end" font-weight="normal" fill="#888">0</text>
<text x="354.24" y="285.40" font-size="3.2" text-anchor="middle" font-weight="normal" fill="#888">0</text>
<text x="359.88" y="285.40" font-size="3.2" text-anchor="middle" font-weight="normal" fill="#888">10</text>
<text x="375.67" y="285.40" font-size="3.2" text-anchor="middle" font-weight="normal" fill="#888">10</text>
<text x="385.82" y="285.40" font-size="3.2" text-anchor="middle" font-weight="normal" fill="#888">10</text>
<text x="399.36" y="285.40" font-size="3.2" text-anchor="middle" font-weight="normal" fill="#888">10</text>
<line x1="359.88" y1="281.20" x2="359.88" y2="280.00" stroke="#999" stroke-width="0.6" stroke-linecap="butt"/>
<line x1="375.67" y1="281.20" x2="375.67" y2="280.00" stroke="#999" stroke-width="0.6" stroke-linecap="butt"/>
<line x1="385.82" y1="281.20" x2="385.82" y2="280.00" stroke="#999" stroke-width="0.6" stroke-linecap="butt"/>
<line x1="399.36" y1="281.20" x2="399.36" y2="280.00" stroke="#999" stroke-width="0.6" stroke-linecap="butt"/>
<line x1="348.60" y1="230.79" x2="349.80" y2="230.79" stroke="#999" stroke-width="0.6" stroke-linecap="butt"/>
<line x1="348.60" y1="242.97" x2="349.80" y2="242.97" stroke="#999" stroke-width="0.6" stroke-linecap="butt"/>
<line x1="348.60" y1="255.16" x2="349.80" y2="255.16" stroke="#999" stroke-width="0.6" stroke-linecap="butt"/>
<line x1="348.60" y1="267.90" x2="349.80" y2="267.90" stroke="#999" stroke-width="0.6" stroke-linecap="butt"/>
<circle cx="383.65" cy="269.91" r="0.65" fill="#7088dc" opacity="0.85"/>
<circle cx="385.46" cy="272.14" r="0.65" fill="#7088dc" opacity="0.85"/>
<circle cx="383.73" cy="278.44" r="0.65" fill="#5570d8" opacity="0.85"/>
<circle cx="383.60" cy="273.63" r="0.65" fill="#3a5ad0" opacity="0.85"/>
<circle cx="385.27" cy="278.43" r="0.65" fill="#2a3cb8" opacity="0.85"/>
<circle cx="383.45" cy="270.52" r="0.65" fill="#3a5ad0" opacity="0.85"/>
<circle cx="383.60" cy="279.75" r="0.65" fill="#2a3cb8" opacity="0.85"/>
<circle cx="384.40" cy="276.93" r="0.65" fill="#2f45c8" opacity="0.85"/>
<circle cx="385.63" cy="258.75" r="0.65" fill="#2f45c8" opacity="0.85"/>
<circle cx="386.80" cy="278.23" r="0.65" fill="#5570d8" opacity="0.85"/>
<circle cx="381.03" cy="279.06" r="0.65" fill="#2a3cb8" opacity="0.85"/>
<circle cx="383.93" cy="270.47" r="0.65" fill="#7088dc" opacity="0.85"/>
<circle cx="380.20" cy="279.06" r="0.65" fill="#2f45c8" opacity="0.85"/>
<circle cx="384.75" cy="258.27" r="0.65" fill="#2a3cb8" opacity="0.85"/>
<circle cx="384.34" cy="271.36" r="0.65" fill="#5570d8" opacity="0.85"/>
<circle cx="386.80" cy="271.04" r="0.65" fill="#2a3cb8" opacity="0.85"/>
<circle cx="381.76" cy="270.75" r="0.65" fill="#3a5ad0" opacity="0.85"/>
<circle cx="382.63" cy="279.43" r="0.65" fill="#2f45c8" opacity="0.85"/>
<circle cx="386.49" cy="275.78" r="0.65" fill="#3a5ad0" opacity="0.85"/>
<circle cx="380.20" cy="276.24" r="0.65" fill="#5570d8" opacity="0.85"/>
<circle cx="386.80" cy="273.97" r="0.65" fill="#3a5ad0" opacity="0.85"/>
<circle cx="382.75" cy="275.12" r="0.65" fill="#7088dc" opacity="0.85"/>
<circle cx="383.41" cy="272.30" r="0.65" fill="#2a3cb8" opacity="0.85"/>
<circle cx="384.31" cy="261.27" r="0.65" fill="#2f45c8" opacity="0.85"/>
<circle cx="382.74" cy="268.07" r="0.65" fill="#2a3cb8" opacity="0.85"/>
<circle cx="383.98" cy="278.97" r="0.65" fill="#2f45c8" opacity="0.85"/>
<circle cx="381.40" cy="270.09" r="0.65" fill="#7088dc" opacity="0.85"/>
<circle cx="381.87" cy="268.99" r="0.65" fill="#5570d8" opacity="0.85"/>
<circle cx="380.20" cy="268.47" r="0.65" fill="#2f45c8" opacity="0.85"/>
<circle cx="383.31" cy="262.14" r="0.65" fill="#7088dc" opacity="0.85"/>
<circle cx="384.52" cy="270.76" r="0.65" fill="#7088dc" opacity="0.85"/>
<circle cx="383.70" cy="267.27" r="0.65" fill="#2f45c8" opacity="0.85"/>
<circle cx="384.92" cy="269.68" r="0.65" fill="#3a5ad0" opacity="0.85"/>
<circle cx="383.32" cy="279.32" r="0.65" fill="#2a3cb8" opacity="0.85"/>
<circle cx="381.23" cy="270.28" r="0.65" fill="#7088dc" opacity="0.85"/>
<circle cx="385.72" cy="275.94" r="0.65" fill="#2f45c8" opacity="0.85"/>
<circle cx="380.78" cy="272.80" r="0.65" fill="#2a3cb8" opacity="0.85"/>
<circle cx="380.94" cy="275.14" r="0.65" fill="#3a5ad0" opacity="0.85"/>
<circle cx="385.05" cy="267.13" r="0.65" fill="#5570d8" opacity="0.85"/>
<circle cx="382.84" cy="273.59" r="0.65" fill="#2f45c8" opacity="0.85"/>
<circle cx="384.61" cy="268.60" r="0.65" fill="#2a3cb8" opacity="0.85"/>
<circle cx="380.20" cy="274.82" r="0.65" fill="#3a5ad0" opacity="0.85"/>
<circle cx="385.55" cy="271.98" r="0.65" fill="#5570d8" opacity="0.85"/>
<circle cx="384.31" cy="274.69" r="0.65" fill="#5570d8" opacity="0.85"/>
<circle cx="383.47" cy="259.84" r="0.65" fill="#2f45c8" opacity="0.85"/>
<circle cx="383.17" cy="280.29" r="0.65" fill="#5570d8" opacity="0.85"/>
<circle cx="382.58" cy="274.56" r="0.65" fill="#3a5ad0" opacity="0.85"/>
<circle cx="382.55" cy="269.77" r="0.65" fill="#5570d8" opacity="0.85"/>
<circle cx="383.65" cy="267.29" r="0.65" fill="#2a3cb8" opacity="0.85"/>
<circle cx="380.48" cy="262.00" r="0.65" fill="#2f45c8" opacity="0.85"/>
<circle cx="385.85" cy="263.08" r="0.65" fill="#7088dc" opacity="0.85"/>
<circle cx="383.07" cy="266.11" r="0.65" fill="#5570d8" opacity="0.85"/>
<circle cx="383.57" cy="271.34" r="0.65" fill="#2f45c8" opacity="0.85"/>
<circle cx="384.51" cy="261.87" r="0.65" fill="#5570d8" opacity="0.85"/>
<circle cx="385.74" cy="266.17" r="0.65" fill="#3a5ad0" opacity="0.85"/>
<circle cx="382.76" cy="260.86" r="0.65" fill="#3a5ad0" opacity="0.85"/>
<circle cx="384.79" cy="266.19" r="0.65" fill="#2f45c8" opacity="0.85"/>
<circle cx="382.36" cy="258.12" r="0.65" fill="#3a5ad0" opacity="0.85"/>
<circle cx="382.31" cy="274.08" r="0.65" fill="#5570d8" opacity="0.85"/>
<circle cx="386.24" cy="269.21" r="0.65" fill="#2f45c8" opacity="0.85"/>
<circle cx="384.00" cy="263.01" r="0.65" fill="#5570d8" opacity="0.85"/>
<circle cx="382.14" cy="273.02" r="0.65" fill="#5570d8" opacity="0.85"/>
<circle cx="381.33" cy="267.98" r="0.65" fill="#7088dc" opacity="0.85"/>
<circle cx="383.99" cy="270.79" r="0.65" fill="#2a3cb8" opacity="0.85"/>
<circle cx="383.58" cy="280.00" r="0.65" fill="#7088dc" opacity="0.85"/>
<circle cx="383.63" cy="280.62" r="0.65" fill="#2a3cb8" opacity="0.85"/>
<circle cx="380.20" cy="276.54" r="0.65" fill="#2f45c8" opacity="0.85"/>
<circle cx="381.84" cy="277.00" r="0.65" fill="#7088dc" opacity="0.85"/>
<circle cx="385.42" cy="279.22" r="0.65" fill="#2f45c8" opacity="0.85"/>
<circle cx="383.05" cy="278.75" r="0.65" fill="#5570d8" opacity="0.85"/>
<circle cx="384.36" cy="258.21" r="0.65" fill="#7088dc" opacity="0.85"/>
<circle cx="384.31" cy="279.72" r="0.65" fill="#2a3cb8" opacity="0.85"/>
<circle cx="383.27" cy="277.00" r="0.65" fill="#3a5ad0" opacity="0.85"/>
<circle cx="383.38" cy="272.72" r="0.65" fill="#3a5ad0" opacity="0.85"/>
<circle cx="382.50" cy="270.88" r="0.65" fill="#7088dc" opacity="0.85"/>
<circle cx="381.86" cy="262.37" r="0.65" fill="#3a5ad0" opacity="0.85"/>
<circle cx="383.45" cy="272.20" r="0.65" fill="#2f45c8" opacity="0.85"/>
<circle cx="386.63" cy="269.49" r="0.65" fill="#3a5ad0" opacity="0.85"/>
<circle cx="385.86" cy="262.60" r="0.65" fill="#3a5ad0" opacity="0.85"/>
<circle cx="385.78" cy="277.74" r="0.65" fill="#3a5ad0" opacity="0.85"/>
<circle cx="383.59" cy="275.04" r="0.65" fill="#2a3cb8" opacity="0.85"/>
<circle cx="383.33" cy="259.21" r="0.65" fill="#5570d8" opacity="0.85"/>
<circle cx="383.52" cy="273.04" r="0.65" fill="#2f45c8" opacity="0.85"/>
<circle cx="385.68" cy="272.12" r="0.65" fill="#2f45c8" opacity="0.85"/>
<circle cx="385.19" cy="258.97" r="0.65" fill="#2f45c8" opacity="0.85"/>
<circle cx="381.38" cy="260.27" r="0.65" fill="#2f45c8" opacity="0.85"/>
<circle cx="383.91" cy="272.70" r="0.65" fill="#5570d8" opacity="0.85"/>
<circle cx="382.97" cy="264.02" r="0.65" fill="#2f45c8" opacity="0.85"/>
<circle cx="382.15" cy="274.29" r="0.65" fill="#5570d8" opacity="0.85"/>
<circle cx="385.32" cy="267.31" r="0.65" fill="#5570d8" opacity="0.85"/>
<circle cx="382.76" cy="254.64" r="0.65" fill="#2a3cb8" opacity="0.85"/>
<circle cx="383.86" cy="277.79" r="0.65" fill="#7088dc" opacity="0.85"/>
<circle cx="384.16" cy="274.61" r="0.65" fill="#7088dc" opacity="0.85"/>
<circle cx="384.87" cy="270.14" r="0.65" fill="#2f45c8" opacity="0.85"/>
<circle cx="382.30" cy="269.97" r="0.65" fill="#2a3cb8" opacity="0.85"/>
<circle cx="382.33" cy="277.24" r="0.65" fill="#5570d8" opacity="0.85"/>
<circle cx="381.38" cy="271.87" r="0.65" fill="#3a5ad0" opacity="0.85"/>
<circle cx="384.66" cy="266.00" r="0.65" fill="#5570d8" opacity="0.85"/>
<circle cx="383.30" cy="271.12" r="0.65" fill="#2a3cb8" opacity="0.85"/>
<circle cx="382.93" cy="263.04" r="0.65" fill="#2f45c8" opacity="0.85"/>
<circle cx="384.90" cy="279.34" r="0.65" fill="#5570d8" opacity="0.85"/>
<circle cx="382.91" cy="262.69" r="0.65" fill="#2f45c8" opacity="0.85"/>
<circle cx="385.86" cy="278.63" r="0.65" fill="#7088dc" opacity="0.85"/>
<circle cx="382.55" cy="277.75" r="0.65" fill="#2f45c8" opacity="0.85"/>
<circle cx="383.29" cy="261.93" r="0.65" fill="#7088dc" opacity="0.85"/>
<circle cx="381.49" cy="276.53" r="0.65" fill="#2a3cb8" opacity="0.85"/>
<circle cx="385.18" cy="258.85" r="0.65" fill="#2f45c8" opacity="0.85"/>
<circle cx="385.63" cy="273.88" r="0.65" fill="#2a3cb8" opacity="0.85"/>
<circle cx="383.65" cy="278.50" r="0.65" fill="#2f45c8" opacity="0.85"/>
<circle cx="383.81" cy="257.44" r="0.65" fill="#2f45c8" opacity="0.85"/>
<circle cx="382.12" cy="280.13" r="0.65" fill="#7088dc" opacity="0.85"/>
<circle cx="380.85" cy="268.21" r="0.65" fill="#2f45c8" opacity="0.85"/>
<circle cx="386.11" cy="272.88" r="0.65" fill="#3a5ad0" opacity="0.85"/>
<circle cx="384.11" cy="262.08" r="0.65" fill="#2f45c8" opacity="0.85"/>
<circle cx="384.01" cy="268.83" r="0.65" fill="#7088dc" opacity="0.85"/>
<circle cx="383.28" cy="264.81" r="0.65" fill="#2f45c8" opacity="0.85"/>
<circle cx="383.55" cy="266.90" r="0.65" fill="#7088dc" opacity="0.85"/>
<circle cx="384.49" cy="276.26" r="0.65" fill="#2a3cb8" opacity="0.85"/>
<circle cx="383.46" cy="279.94" r="0.65" fill="#7088dc" opacity="0.85"/>
<circle cx="385.63" cy="270.98" r="0.65" fill="#2f45c8" opacity="0.85"/>
<circle cx="382.68" cy="279.80" r="0.65" fill="#3a5ad0" opacity="0.85"/>
<circle cx="384.31" cy="270.91" r="0.65" fill="#7088dc" opacity="0.85"/>
<circle cx="383.59" cy="272.99" r="0.65" fill="#2a3cb8" opacity="0.85"/>
<circle cx="381.15" cy="263.99" r="0.65" fill="#2a3cb8" opacity="0.85"/>
<circle cx="384.21" cy="261.61" r="0.65" fill="#2a3cb8" opacity="0.85"/>
<circle cx="382.96" cy="279.62" r="0.65" fill="#7088dc" opacity="0.85"/>
<circle cx="385.49" cy="278.75" r="0.65" fill="#3a5ad0" opacity="0.85"/>
<circle cx="382.86" cy="267.37" r="0.65" fill="#3a5ad0" opacity="0.85"/>
<circle cx="384.65" cy="279.88" r="0.65" fill="#7088dc" opacity="0.85"/>
<circle cx="385.01" cy="280.14" r="0.65" fill="#5570d8" opacity="0.85"/>
<circle cx="382.04" cy="274.45" r="0.65" fill="#7088dc" opacity="0.85"/>
<circle cx="380.78" cy="274.26" r="0.65" fill="#5570d8" opacity="0.85"/>
<circle cx="384.53" cy="267.39" r="0.65" fill="#2a3cb8" opacity="0.85"/>
<circle cx="382.64" cy="265.45" r="0.65" fill="#7088dc" opacity="0.85"/>
<circle cx="382.61" cy="277.46" r="0.65" fill="#3a5ad0" opacity="0.85"/>
<circle cx="384.56" cy="270.98" r="0.65" fill="#2a3cb8" opacity="0.85"/>
<circle cx="383.18" cy="274.18" r="0.65" fill="#7088dc" opacity="0.85"/>
<circle cx="382.48" cy="257.63" r="0.65" fill="#2f45c8" opacity="0.85"/>
<circle cx="384.49" cy="276.81" r="0.65" fill="#2f45c8" opacity="0.85"/>
<circle cx="382.25" cy="272.01" r="0.65" fill="#3a5ad0" opacity="0.85"/>
<circle cx="385.26" cy="277.51" r="0.65" fill="#2f45c8" opacity="0.85"/>
<circle cx="382.06" cy="280.22" r="0.65" fill="#5570d8" opacity="0.85"/>
<circle cx="383.55" cy="267.14" r="0.65" fill="#3a5ad0" opacity="0.85"/>
<circle cx="384.52" cy="274.92" r="0.65" fill="#2f45c8" opacity="0.85"/>
<circle cx="384.47" cy="278.86" r="0.65" fill="#5570d8" opacity="0.85"/>
<circle cx="382.79" cy="264.90" r="0.65" fill="#2f45c8" opacity="0.85"/>
<circle cx="383.41" cy="261.46" r="0.65" fill="#5570d8" opacity="0.85"/>
<circle cx="382.84" cy="258.28" r="0.65" fill="#2a3cb8" opacity="0.85"/>
<circle cx="381.44" cy="255.31" r="0.65" fill="#5570d8" opacity="0.85"/>
<circle cx="382.36" cy="269.01" r="0.65" fill="#2a3cb8" opacity="0.85"/>
<circle cx="382.42" cy="274.26" r="0.65" fill="#2a3cb8" opacity="0.85"/>
<circle cx="383.60" cy="270.38" r="0.65" fill="#7088dc" opacity="0.85"/>
<circle cx="382.14" cy="260.68" r="0.65" fill="#2a3cb8" opacity="0.85"/>
<circle cx="386.46" cy="262.33" r="0.65" fill="#7088dc" opacity="0.85"/>
<circle cx="384.10" cy="279.97" r="0.65" fill="#5570d8" opacity="0.85"/>
<circle cx="383.12" cy="275.90" r="0.65" fill="#5570d8" opacity="0.85"/>
<circle cx="383.56" cy="275.86" r="0.65" fill="#5570d8" opacity="0.85"/>
<circle cx="382.19" cy="262.10" r="0.65" fill="#5570d8" opacity="0.85"/>
<circle cx="382.59" cy="262.36" r="0.65" fill="#2a3cb8" opacity="0.85"/>
<circle cx="381.78" cy="272.83" r="0.65" fill="#2f45c8" opacity="0.85"/>
<circle cx="383.03" cy="273.92" r="0.65" fill="#3a5ad0" opacity="0.85"/>
<circle cx="381.18" cy="275.34" r="0.65" fill="#3a5ad0" opacity="0.85"/>
<circle cx="384.92" cy="275.51" r="0.65" fill="#2f45c8" opacity="0.85"/>
<circle cx="386.48" cy="262.15" r="0.65" fill="#7088dc" opacity="0.85"/>
<circle cx="384.39" cy="276.60" r="0.65" fill="#7088dc" opacity="0.85"/>
<circle cx="384.59" cy="271.02" r="0.65" fill="#5570d8" opacity="0.85"/>
<circle cx="382.46" cy="268.54" r="0.65" fill="#3a5ad0" opacity="0.85"/>
<circle cx="382.11" cy="276.35" r="0.65" fill="#2f45c8" opacity="0.85"/>
<circle cx="382.94" cy="273.49" r="0.65" fill="#2a3cb8" opacity="0.85"/>
<circle cx="380.93" cy="269.66" r="0.65" fill="#5570d8" opacity="0.85"/>
<circle cx="383.43" cy="263.27" r="0.65" fill="#2a3cb8" opacity="0.85"/>
<circle cx="384.02" cy="272.75" r="0.65" fill="#3a5ad0" opacity="0.85"/>
<circle cx="382.86" cy="279.01" r="0.65" fill="#2a3cb8" opacity="0.85"/>
<circle cx="381.72" cy="271.61" r="0.65" fill="#2f45c8" opacity="0.85"/>
<circle cx="381.67" cy="262.31" r="0.65" fill="#5570d8" opacity="0.85"/>
<circle cx="385.93" cy="274.36" r="0.65" fill="#2f45c8" opacity="0.85"/>
<circle cx="380.33" cy="262.31" r="0.65" fill="#3a5ad0" opacity="0.85"/>
<circle cx="382.14" cy="273.93" r="0.65" fill="#2a3cb8" opacity="0.85"/>
<circle cx="384.55" cy="274.39" r="0.65" fill="#3a5ad0" opacity="0.85"/>
<circle cx="381.11" cy="278.77" r="0.65" fill="#3a5ad0" opacity="0.85"/>
<circle cx="382.58" cy="264.76" r="0.65" fill="#5570d8" opacity="0.85"/>
<circle cx="383.23" cy="269.90" r="0.65" fill="#5570d8" opacity="0.85"/>
<circle cx="386.28" cy="279.24" r="0.65" fill="#2a3cb8" opacity="0.85"/>
<circle cx="384.03" cy="268.63" r="0.65" fill="#7088dc" opacity="0.85"/>
<circle cx="382.83" cy="273.22" r="0.65" fill="#5570d8" opacity="0.85"/>
<circle cx="385.22" cy="279.31" r="0.65" fill="#2a3cb8" opacity="0.85"/>
<circle cx="384.50" cy="275.14" r="0.65" fill="#2f45c8" opacity="0.85"/>
<circle cx="383.69" cy="277.40" r="0.65" fill="#3a5ad0" opacity="0.85"/>
<circle cx="381.59" cy="271.87" r="0.65" fill="#3a5ad0" opacity="0.85"/>
<circle cx="383.60" cy="277.59" r="0.65" fill="#3a5ad0" opacity="0.85"/>
<circle cx="385.30" cy="275.34" r="0.65" fill="#2a3cb8" opacity="0.85"/>
<circle cx="383.93" cy="262.29" r="0.65" fill="#5570d8" opacity="0.85"/>
<circle cx="386.71" cy="263.24" r="0.65" fill="#2f45c8" opacity="0.85"/>
<circle cx="382.66" cy="274.95" r="0.65" fill="#2f45c8" opacity="0.85"/>
<circle cx="385.65" cy="272.77" r="0.65" fill="#2a3cb8" opacity="0.85"/>
<circle cx="383.85" cy="273.41" r="0.65" fill="#5570d8" opacity="0.85"/>
<circle cx="382.09" cy="276.17" r="0.65" fill="#3a5ad0" opacity="0.85"/>
<circle cx="386.35" cy="260.89" r="0.65" fill="#7088dc" opacity="0.85"/>
<circle cx="383.57" cy="260.86" r="0.65" fill="#5570d8" opacity="0.85"/>
<circle cx="383.09" cy="280.77" r="0.65" fill="#3a5ad0" opacity="0.85"/>
<circle cx="386.34" cy="271.38" r="0.65" fill="#3a5ad0" opacity="0.85"/>
<circle cx="382.20" cy="272.36" r="0.65" fill="#2f45c8" opacity="0.85"/>
<circle cx="383.87" cy="278.56" r="0.65" fill="#3a5ad0" opacity="0.85"/>
<circle cx="381.93" cy="270.39" r="0.65" fill="#2a3cb8" opacity="0.85"/>
<circle cx="382.89" cy="271.06" r="0.65" fill="#2a3cb8" opacity="0.85"/>
<circle cx="381.65" cy="268.34" r="0.65" fill="#2a3cb8" opacity="0.85"/>
<circle cx="381.18" cy="271.41" r="0.65" fill="#2a3cb8" opacity="0.85"/>
<circle cx="384.13" cy="279.36" r="0.65" fill="#5570d8" opacity="0.85"/>
<circle cx="382.49" cy="273.23" r="0.65" fill="#7088dc" opacity="0.85"/>
<circle cx="384.62" cy="270.62" r="0.65" fill="#2f45c8" opacity="0.85"/>
<circle cx="383.91" cy="269.90" r="0.65" fill="#2a3cb8" opacity="0.85"/>
<circle cx="382.35" cy="273.31" r="0.65" fill="#3a5ad0" opacity="0.85"/>
<circle cx="383.74" cy="270.66" r="0.65" fill="#3a5ad0" opacity="0.85"/>
<circle cx="384.43" cy="275.18" r="0.65" fill="#3a5ad0" opacity="0.85"/>
<circle cx="384.23" cy="272.47" r="0.65" fill="#2f45c8" opacity="0.85"/>
<circle cx="384.11" cy="278.50" r="0.65" fill="#2a3cb8" opacity="0.85"/>
<circle cx="381.98" cy="276.32" r="0.65" fill="#2f45c8" opacity="0.85"/>
<circle cx="384.02" cy="266.60" r="0.65" fill="#2f45c8" opacity="0.85"/>
<circle cx="383.21" cy="280.32" r="0.65" fill="#3a5ad0" opacity="0.85"/>
<circle cx="383.72" cy="266.66" r="0.65" fill="#2a3cb8" opacity="0.85"/>
<circle cx="382.57" cy="274.93" r="0.65" fill="#5570d8" opacity="0.85"/>
<circle cx="383.65" cy="279.56" r="0.65" fill="#7088dc" opacity="0.85"/>
<circle cx="385.90" cy="267.58" r="0.65" fill="#2a3cb8" opacity="0.85"/>
<circle cx="384.31" cy="277.70" r="0.65" fill="#5570d8" opacity="0.85"/>
<circle cx="381.49" cy="257.82" r="0.65" fill="#5570d8" opacity="0.85"/>
<circle cx="383.64" cy="275.05" r="0.65" fill="#5570d8" opacity="0.85"/>
<circle cx="383.28" cy="271.34" r="0.65" fill="#2f45c8" opacity="0.85"/>
<circle cx="383.99" cy="274.39" r="0.65" fill="#2f45c8" opacity="0.85"/>
<circle cx="385.38" cy="256.84" r="0.65" fill="#7088dc" opacity="0.85"/>
<circle cx="384.95" cy="258.32" r="0.65" fill="#2f45c8" opacity="0.85"/>
<circle cx="384.20" cy="269.00" r="0.65" fill="#2a3cb8" opacity="0.85"/>
<circle cx="385.24" cy="269.21" r="0.65" fill="#2a3cb8" opacity="0.85"/>
<circle cx="386.74" cy="258.14" r="0.65" fill="#5570d8" opacity="0.85"/>
<circle cx="381.65" cy="277.10" r="0.65" fill="#2a3cb8" opacity="0.85"/>
<circle cx="384.62" cy="278.63" r="0.65" fill="#2f45c8" opacity="0.85"/>
<circle cx="384.19" cy="272.80" r="0.65" fill="#7088dc" opacity="0.85"/>
<circle cx="382.30" cy="279.79" r="0.65" fill="#3a5ad0" opacity="0.85"/>
<circle cx="385.55" cy="278.44" r="0.65" fill="#2a3cb8" opacity="0.85"/>
<circle cx="384.52" cy="279.72" r="0.65" fill="#5570d8" opacity="0.85"/>
<circle cx="381.79" cy="277.89" r="0.65" fill="#2a3cb8" opacity="0.85"/>
<circle cx="383.85" cy="272.27" r="0.65" fill="#5570d8" opacity="0.85"/>
<circle cx="386.21" cy="278.19" r="0.65" fill="#7088dc" opacity="0.85"/>
<circle cx="383.11" cy="276.44" r="0.65" fill="#2a3cb8" opacity="0.85"/>
<circle cx="381.39" cy="280.09" r="0.65" fill="#2f45c8" opacity="0.85"/>
<circle cx="384.91" cy="257.21" r="0.65" fill="#2a3cb8" opacity="0.85"/>
<circle cx="385.54" cy="261.43" r="0.65" fill="#2f45c8" opacity="0.85"/>
<circle cx="382.59" cy="277.89" r="0.65" fill="#2f45c8" opacity="0.85"/>
<circle cx="385.43" cy="279.06" r="0.65" fill="#2f45c8" opacity="0.85"/>
<circle cx="380.31" cy="276.80" r="0.65" fill="#5570d8" opacity="0.85"/>
<circle cx="384.54" cy="280.76" r="0.65" fill="#2f45c8" opacity="0.85"/>
<circle cx="384.93" cy="280.18" r="0.65" fill="#2f45c8" opacity="0.85"/>
<circle cx="384.19" cy="269.17" r="0.65" fill="#5570d8" opacity="0.85"/>
<circle cx="384.00" cy="275.40" r="0.65" fill="#3a5ad0" opacity="0.85"/>
<circle cx="383.91" cy="276.06" r="0.65" fill="#3a5ad0" opacity="0.85"/>
<circle cx="384.30" cy="280.60" r="0.65" fill="#2f45c8" opacity="0.85"/>
<circle cx="383.16" cy="266.33" r="0.65" fill="#3a5ad0" opacity="0.85"/>
<circle cx="383.88" cy="271.01" r="0.65" fill="#7088dc" opacity="0.85"/>
<circle cx="385.48" cy="268.70" r="0.65" fill="#7088dc" opacity="0.85"/>
<circle cx="383.85" cy="274.93" r="0.65" fill="#2f45c8" opacity="0.85"/>
<circle cx="381.77" cy="278.26" r="0.65" fill="#2f45c8" opacity="0.85"/>
<circle cx="380.96" cy="261.85" r="0.65" fill="#5570d8" opacity="0.85"/>
<circle cx="381.70" cy="261.14" r="0.65" fill="#2a3cb8" opacity="0.85"/>
<circle cx="381.13" cy="275.94" r="0.65" fill="#2f45c8" opacity="0.85"/>
<circle cx="385.24" cy="275.27" r="0.65" fill="#5570d8" opacity="0.85"/>
<circle cx="381.61" cy="277.52" r="0.65" fill="#5570d8" opacity="0.85"/>
<circle cx="384.82" cy="278.41" r="0.65" fill="#7088dc" opacity="0.85"/>
<circle cx="382.06" cy="262.51" r="0.65" fill="#2f45c8" opacity="0.85"/>
<circle cx="384.03" cy="271.94" r="0.65" fill="#2f45c8" opacity="0.85"/>
<circle cx="382.94" cy="277.13" r="0.65" fill="#7088dc" opacity="0.85"/>
<circle cx="384.36" cy="276.03" r="0.65" fill="#5570d8" opacity="0.85"/>
<circle cx="381.49" cy="274.64" r="0.65" fill="#3a5ad0" opacity="0.85"/>
<circle cx="384.56" cy="266.90" r="0.65" fill="#2f45c8" opacity="0.85"/>
<circle cx="382.65" cy="261.07" r="0.65" fill="#3a5ad0" opacity="0.85"/>
<circle cx="384.93" cy="268.81" r="0.65" fill="#3a5ad0" opacity="0.85"/>
<circle cx="383.03" cy="280.61" r="0.65" fill="#7088dc" opacity="0.85"/>
<circle cx="380.33" cy="271.93" r="0.65" fill="#7088dc" opacity="0.85"/>
<circle cx="384.40" cy="265.15" r="0.65" fill="#7088dc" opacity="0.85"/>
<circle cx="382.30" cy="280.09" r="0.65" fill="#2a3cb8" opacity="0.85"/>
<circle cx="386.80" cy="272.05" r="0.65" fill="#7088dc" opacity="0.85"/>
<circle cx="380.72" cy="279.67" r="0.65" fill="#5570d8" opacity="0.85"/>
<rect x="379.7" y="244.9" width="7.6" height="36" fill="none" stroke="#888" stroke-width="0.7"/>
<rect x="376.9" y="265.4" width="6" height="15.5" fill="none" stroke="#888" stroke-width="0.7"/>
<line x1="377.00" y1="280.60" x2="386.00" y2="280.60" stroke="#8ccf7a" stroke-width="0.8" stroke-linecap="butt"/>
<text x="384.00" y="240.60" font-size="6.8" text-anchor="middle" font-weight="normal" fill="#333" stroke="#333" stroke-width="0.35">14.5</text>
<text x="367.30" y="276.60" font-size="6.8" text-anchor="middle" font-weight="normal" fill="#333" stroke="#333" stroke-width="0.35">67</text>
<text x="396.70" y="276.60" font-size="6.8" text-anchor="middle" font-weight="normal" fill="#333" stroke="#333" stroke-width="0.35">18.2</text>
<text x="458.90" y="224.20" font-size="10.6" text-anchor="middle" font-weight="normal" fill="#000" stroke="#000" stroke-width="0.18" textLength="45.00" lengthAdjust="spacingAndGlyphs">LSK - DA</text>
<rect x="430.60" y="226.40" width="54.80" height="55.50" fill="none" stroke="#a0a0a0" stroke-width="0.8"/>
<text transform="translate(423.00 256.20) rotate(-90)" font-size="7.6" text-anchor="middle" font-weight="normal" fill="#000" stroke="#000" stroke-width="0.18" textLength="39.20" lengthAdjust="spacingAndGlyphs">BrdU - v450</text>
<text x="459.40" y="294.30" font-size="7.6" text-anchor="middle" font-weight="normal" fill="#000" stroke="#000" stroke-width="0.18" textLength="21.50" lengthAdjust="spacingAndGlyphs">7-AAD</text>
<text x="428.10" y="232.40" font-size="3.2" text-anchor="end" font-weight="normal" fill="#888">10</text>
<text x="428.10" y="244.60" font-size="3.2" text-anchor="end" font-weight="normal" fill="#888">10</text>
<text x="428.10" y="256.81" font-size="3.2" text-anchor="end" font-weight="normal" fill="#888">10</text>
<text x="428.10" y="269.58" font-size="3.2" text-anchor="end" font-weight="normal" fill="#888">10</text>
<text x="428.10" y="277.35" font-size="3.2" text-anchor="end" font-weight="normal" fill="#888">0</text>
<text x="436.08" y="286.10" font-size="3.2" text-anchor="middle" font-weight="normal" fill="#888">0</text>
<text x="441.56" y="286.10" font-size="3.2" text-anchor="middle" font-weight="normal" fill="#888">10</text>
<text x="456.90" y="286.10" font-size="3.2" text-anchor="middle" font-weight="normal" fill="#888">10</text>
<text x="466.77" y="286.10" font-size="3.2" text-anchor="middle" font-weight="normal" fill="#888">10</text>
<text x="479.92" y="286.10" font-size="3.2" text-anchor="middle" font-weight="normal" fill="#888">10</text>
<line x1="441.56" y1="281.90" x2="441.56" y2="280.70" stroke="#999" stroke-width="0.6" stroke-linecap="butt"/>
<line x1="456.90" y1="281.90" x2="456.90" y2="280.70" stroke="#999" stroke-width="0.6" stroke-linecap="butt"/>
<line x1="466.77" y1="281.90" x2="466.77" y2="280.70" stroke="#999" stroke-width="0.6" stroke-linecap="butt"/>
<line x1="479.92" y1="281.90" x2="479.92" y2="280.70" stroke="#999" stroke-width="0.6" stroke-linecap="butt"/>
<line x1="430.60" y1="231.40" x2="431.80" y2="231.40" stroke="#999" stroke-width="0.6" stroke-linecap="butt"/>
<line x1="430.60" y1="243.60" x2="431.80" y2="243.60" stroke="#999" stroke-width="0.6" stroke-linecap="butt"/>
<line x1="430.60" y1="255.81" x2="431.80" y2="255.81" stroke="#999" stroke-width="0.6" stroke-linecap="butt"/>
<line x1="430.60" y1="268.58" x2="431.80" y2="268.58" stroke="#999" stroke-width="0.6" stroke-linecap="butt"/>
<circle cx="462.08" cy="279.79" r="0.62" fill="#2f45c8" opacity="0.85"/>
<circle cx="461.72" cy="277.36" r="0.62" fill="#5570d8" opacity="0.85"/>
<circle cx="461.26" cy="273.12" r="0.62" fill="#3a5ad0" opacity="0.85"/>
<circle cx="461.79" cy="277.70" r="0.62" fill="#5570d8" opacity="0.85"/>
<circle cx="461.38" cy="273.04" r="0.62" fill="#3a5ad0" opacity="0.85"/>
<circle cx="461.82" cy="277.73" r="0.62" fill="#5570d8" opacity="0.85"/>
<circle cx="462.83" cy="280.01" r="0.62" fill="#2a3cb8" opacity="0.85"/>
<circle cx="463.09" cy="261.92" r="0.62" fill="#3a5ad0" opacity="0.85"/>
<circle cx="459.03" cy="269.01" r="0.62" fill="#2a3cb8" opacity="0.85"/>
<circle cx="462.02" cy="280.94" r="0.62" fill="#5570d8" opacity="0.85"/>
<circle cx="463.32" cy="280.43" r="0.62" fill="#2a3cb8" opacity="0.85"/>
<circle cx="461.23" cy="274.12" r="0.62" fill="#7088dc" opacity="0.85"/>
<circle cx="462.45" cy="269.12" r="0.62" fill="#2f45c8" opacity="0.85"/>
<circle cx="465.00" cy="272.94" r="0.62" fill="#5570d8" opacity="0.85"/>
<circle cx="462.25" cy="267.91" r="0.62" fill="#7088dc" opacity="0.85"/>
<circle cx="460.60" cy="256.56" r="0.62" fill="#3a5ad0" opacity="0.85"/>
<circle cx="461.20" cy="257.94" r="0.62" fill="#2f45c8" opacity="0.85"/>
<circle cx="461.17" cy="254.70" r="0.62" fill="#2a3cb8" opacity="0.85"/>
<circle cx="459.38" cy="270.87" r="0.62" fill="#7088dc" opacity="0.85"/>
<circle cx="464.93" cy="259.25" r="0.62" fill="#3a5ad0" opacity="0.85"/>
<circle cx="461.89" cy="279.95" r="0.62" fill="#2f45c8" opacity="0.85"/>
<circle cx="463.02" cy="275.47" r="0.62" fill="#2f45c8" opacity="0.85"/>
<circle cx="460.67" cy="276.58" r="0.62" fill="#2a3cb8" opacity="0.85"/>
<circle cx="462.17" cy="272.05" r="0.62" fill="#5570d8" opacity="0.85"/>
<circle cx="461.60" cy="259.42" r="0.62" fill="#3a5ad0" opacity="0.85"/>
<circle cx="462.11" cy="280.06" r="0.62" fill="#7088dc" opacity="0.85"/>
<circle cx="461.81" cy="277.90" r="0.62" fill="#2a3cb8" opacity="0.85"/>
<circle cx="462.62" cy="273.81" r="0.62" fill="#5570d8" opacity="0.85"/>
<circle cx="460.63" cy="265.66" r="0.62" fill="#2f45c8" opacity="0.85"/>
<circle cx="461.40" cy="273.38" r="0.62" fill="#2f45c8" opacity="0.85"/>
<circle cx="464.44" cy="273.03" r="0.62" fill="#7088dc" opacity="0.85"/>
<circle cx="459.80" cy="273.92" r="0.62" fill="#5570d8" opacity="0.85"/>
<circle cx="460.87" cy="266.13" r="0.62" fill="#3a5ad0" opacity="0.85"/>
<circle cx="461.69" cy="281.10" r="0.62" fill="#7088dc" opacity="0.85"/>
<circle cx="463.91" cy="272.57" r="0.62" fill="#5570d8" opacity="0.85"/>
<circle cx="463.37" cy="278.55" r="0.62" fill="#2a3cb8" opacity="0.85"/>
<circle cx="461.41" cy="275.02" r="0.62" fill="#3a5ad0" opacity="0.85"/>
<circle cx="463.63" cy="274.05" r="0.62" fill="#2a3cb8" opacity="0.85"/>
<circle cx="460.70" cy="272.86" r="0.62" fill="#7088dc" opacity="0.85"/>
<circle cx="461.90" cy="275.62" r="0.62" fill="#2f45c8" opacity="0.85"/>
<circle cx="460.97" cy="263.70" r="0.62" fill="#3a5ad0" opacity="0.85"/>
<circle cx="463.68" cy="268.90" r="0.62" fill="#5570d8" opacity="0.85"/>
<circle cx="463.61" cy="271.06" r="0.62" fill="#7088dc" opacity="0.85"/>
<circle cx="463.16" cy="273.40" r="0.62" fill="#2a3cb8" opacity="0.85"/>
<circle cx="462.96" cy="266.07" r="0.62" fill="#2a3cb8" opacity="0.85"/>
<circle cx="465.00" cy="280.45" r="0.62" fill="#2a3cb8" opacity="0.85"/>
<circle cx="461.31" cy="280.56" r="0.62" fill="#5570d8" opacity="0.85"/>
<circle cx="462.91" cy="269.83" r="0.62" fill="#2a3cb8" opacity="0.85"/>
<circle cx="461.41" cy="272.03" r="0.62" fill="#2a3cb8" opacity="0.85"/>
<circle cx="461.66" cy="280.95" r="0.62" fill="#2f45c8" opacity="0.85"/>
<circle cx="458.60" cy="277.59" r="0.62" fill="#7088dc" opacity="0.85"/>
<circle cx="461.92" cy="263.66" r="0.62" fill="#2f45c8" opacity="0.85"/>
<circle cx="459.89" cy="255.68" r="0.62" fill="#5570d8" opacity="0.85"/>
<circle cx="459.74" cy="280.87" r="0.62" fill="#2f45c8" opacity="0.85"/>
<circle cx="458.60" cy="272.92" r="0.62" fill="#5570d8" opacity="0.85"/>
<circle cx="463.63" cy="274.48" r="0.62" fill="#2f45c8" opacity="0.85"/>
<circle cx="462.60" cy="265.64" r="0.62" fill="#3a5ad0" opacity="0.85"/>
<circle cx="463.37" cy="279.97" r="0.62" fill="#3a5ad0" opacity="0.85"/>
<circle cx="461.17" cy="271.62" r="0.62" fill="#2f45c8" opacity="0.85"/>
<circle cx="460.21" cy="264.72" r="0.62" fill="#2f45c8" opacity="0.85"/>
<circle cx="462.71" cy="269.67" r="0.62" fill="#3a5ad0" opacity="0.85"/>
<circle cx="463.74" cy="279.55" r="0.62" fill="#2f45c8" opacity="0.85"/>
<circle cx="460.93" cy="267.10" r="0.62" fill="#2f45c8" opacity="0.85"/>
<circle cx="461.67" cy="272.36" r="0.62" fill="#3a5ad0" opacity="0.85"/>
<circle cx="463.03" cy="264.31" r="0.62" fill="#3a5ad0" opacity="0.85"/>
<circle cx="461.70" cy="269.28" r="0.62" fill="#2a3cb8" opacity="0.85"/>
<circle cx="459.77" cy="261.89" r="0.62" fill="#3a5ad0" opacity="0.85"/>
<circle cx="464.51" cy="256.10" r="0.62" fill="#5570d8" opacity="0.85"/>
<circle cx="465.00" cy="268.00" r="0.62" fill="#5570d8" opacity="0.85"/>
<circle cx="461.72" cy="274.48" r="0.62" fill="#2a3cb8" opacity="0.85"/>
<circle cx="464.15" cy="273.13" r="0.62" fill="#5570d8" opacity="0.85"/>
<circle cx="463.59" cy="274.21" r="0.62" fill="#2a3cb8" opacity="0.85"/>
<circle cx="460.25" cy="274.34" r="0.62" fill="#2a3cb8" opacity="0.85"/>
<circle cx="461.09" cy="264.98" r="0.62" fill="#2a3cb8" opacity="0.85"/>
<circle cx="462.31" cy="275.31" r="0.62" fill="#3a5ad0" opacity="0.85"/>
<circle cx="460.92" cy="269.42" r="0.62" fill="#3a5ad0" opacity="0.85"/>
<circle cx="460.61" cy="264.27" r="0.62" fill="#7088dc" opacity="0.85"/>
<circle cx="464.46" cy="280.92" r="0.62" fill="#2a3cb8" opacity="0.85"/>
<circle cx="461.08" cy="274.96" r="0.62" fill="#3a5ad0" opacity="0.85"/>
<circle cx="461.17" cy="279.48" r="0.62" fill="#2a3cb8" opacity="0.85"/>
<circle cx="464.11" cy="274.11" r="0.62" fill="#5570d8" opacity="0.85"/>
<circle cx="461.68" cy="262.66" r="0.62" fill="#7088dc" opacity="0.85"/>
<circle cx="460.62" cy="275.25" r="0.62" fill="#3a5ad0" opacity="0.85"/>
<circle cx="461.14" cy="269.96" r="0.62" fill="#7088dc" opacity="0.85"/>
<circle cx="459.80" cy="275.26" r="0.62" fill="#7088dc" opacity="0.85"/>
<circle cx="460.96" cy="278.09" r="0.62" fill="#5570d8" opacity="0.85"/>
<circle cx="463.68" cy="269.08" r="0.62" fill="#5570d8" opacity="0.85"/>
<circle cx="459.60" cy="268.64" r="0.62" fill="#2f45c8" opacity="0.85"/>
<circle cx="460.94" cy="281.14" r="0.62" fill="#3a5ad0" opacity="0.85"/>
<circle cx="461.16" cy="268.96" r="0.62" fill="#5570d8" opacity="0.85"/>
<circle cx="460.14" cy="274.22" r="0.62" fill="#3a5ad0" opacity="0.85"/>
<circle cx="462.31" cy="281.03" r="0.62" fill="#7088dc" opacity="0.85"/>
<circle cx="458.60" cy="260.43" r="0.62" fill="#2a3cb8" opacity="0.85"/>
<circle cx="461.15" cy="272.20" r="0.62" fill="#7088dc" opacity="0.85"/>
<circle cx="461.89" cy="279.27" r="0.62" fill="#2a3cb8" opacity="0.85"/>
<circle cx="461.27" cy="267.01" r="0.62" fill="#2f45c8" opacity="0.85"/>
<circle cx="461.09" cy="274.53" r="0.62" fill="#2f45c8" opacity="0.85"/>
<circle cx="462.59" cy="272.31" r="0.62" fill="#2a3cb8" opacity="0.85"/>
<circle cx="461.45" cy="269.42" r="0.62" fill="#7088dc" opacity="0.85"/>
<circle cx="460.40" cy="271.05" r="0.62" fill="#2a3cb8" opacity="0.85"/>
<circle cx="460.26" cy="279.56" r="0.62" fill="#7088dc" opacity="0.85"/>
<circle cx="463.39" cy="273.55" r="0.62" fill="#5570d8" opacity="0.85"/>
<circle cx="462.08" cy="275.65" r="0.62" fill="#3a5ad0" opacity="0.85"/>
<circle cx="463.24" cy="279.69" r="0.62" fill="#3a5ad0" opacity="0.85"/>
<circle cx="461.27" cy="258.78" r="0.62" fill="#7088dc" opacity="0.85"/>
<circle cx="462.92" cy="277.52" r="0.62" fill="#5570d8" opacity="0.85"/>
<circle cx="459.37" cy="278.91" r="0.62" fill="#3a5ad0" opacity="0.85"/>
<circle cx="461.27" cy="272.52" r="0.62" fill="#7088dc" opacity="0.85"/>
<circle cx="464.08" cy="271.21" r="0.62" fill="#2a3cb8" opacity="0.85"/>
<circle cx="463.96" cy="264.60" r="0.62" fill="#5570d8" opacity="0.85"/>
<circle cx="461.57" cy="278.84" r="0.62" fill="#7088dc" opacity="0.85"/>
<circle cx="462.76" cy="279.66" r="0.62" fill="#2a3cb8" opacity="0.85"/>
<circle cx="463.20" cy="256.12" r="0.62" fill="#3a5ad0" opacity="0.85"/>
<circle cx="462.05" cy="273.13" r="0.62" fill="#3a5ad0" opacity="0.85"/>
<circle cx="460.40" cy="272.34" r="0.62" fill="#5570d8" opacity="0.85"/>
<circle cx="462.97" cy="272.41" r="0.62" fill="#2f45c8" opacity="0.85"/>
<circle cx="460.20" cy="279.59" r="0.62" fill="#2f45c8" opacity="0.85"/>
<circle cx="459.85" cy="272.52" r="0.62" fill="#5570d8" opacity="0.85"/>
<circle cx="461.99" cy="273.27" r="0.62" fill="#2a3cb8" opacity="0.85"/>
<circle cx="461.88" cy="275.93" r="0.62" fill="#2f45c8" opacity="0.85"/>
<circle cx="462.43" cy="272.06" r="0.62" fill="#7088dc" opacity="0.85"/>
<circle cx="460.59" cy="267.44" r="0.62" fill="#5570d8" opacity="0.85"/>
<circle cx="462.25" cy="262.47" r="0.62" fill="#7088dc" opacity="0.85"/>
<circle cx="463.25" cy="258.51" r="0.62" fill="#7088dc" opacity="0.85"/>
<circle cx="459.83" cy="262.31" r="0.62" fill="#3a5ad0" opacity="0.85"/>
<circle cx="461.50" cy="278.80" r="0.62" fill="#7088dc" opacity="0.85"/>
<circle cx="460.69" cy="272.80" r="0.62" fill="#7088dc" opacity="0.85"/>
<circle cx="462.65" cy="267.46" r="0.62" fill="#7088dc" opacity="0.85"/>
<circle cx="460.82" cy="264.37" r="0.62" fill="#7088dc" opacity="0.85"/>
<circle cx="464.92" cy="270.90" r="0.62" fill="#7088dc" opacity="0.85"/>
<circle cx="460.20" cy="280.03" r="0.62" fill="#7088dc" opacity="0.85"/>
<circle cx="463.86" cy="266.78" r="0.62" fill="#2f45c8" opacity="0.85"/>
<circle cx="461.26" cy="275.90" r="0.62" fill="#2a3cb8" opacity="0.85"/>
<circle cx="458.84" cy="279.51" r="0.62" fill="#3a5ad0" opacity="0.85"/>
<circle cx="462.09" cy="272.82" r="0.62" fill="#7088dc" opacity="0.85"/>
<circle cx="462.45" cy="271.61" r="0.62" fill="#3a5ad0" opacity="0.85"/>
<circle cx="460.78" cy="270.05" r="0.62" fill="#3a5ad0" opacity="0.85"/>
<circle cx="464.14" cy="271.34" r="0.62" fill="#2f45c8" opacity="0.85"/>
<circle cx="461.92" cy="267.37" r="0.62" fill="#5570d8" opacity="0.85"/>
<circle cx="463.25" cy="268.13" r="0.62" fill="#5570d8" opacity="0.85"/>
<circle cx="465.00" cy="277.51" r="0.62" fill="#3a5ad0" opacity="0.85"/>
<circle cx="463.09" cy="267.28" r="0.62" fill="#2a3cb8" opacity="0.85"/>
<circle cx="462.23" cy="273.32" r="0.62" fill="#3a5ad0" opacity="0.85"/>
<circle cx="462.62" cy="267.13" r="0.62" fill="#5570d8" opacity="0.85"/>
<circle cx="461.07" cy="277.79" r="0.62" fill="#2a3cb8" opacity="0.85"/>
<circle cx="461.20" cy="275.38" r="0.62" fill="#2a3cb8" opacity="0.85"/>
<circle cx="460.05" cy="272.54" r="0.62" fill="#2f45c8" opacity="0.85"/>
<circle cx="460.56" cy="261.98" r="0.62" fill="#7088dc" opacity="0.85"/>
<circle cx="462.92" cy="275.05" r="0.62" fill="#5570d8" opacity="0.85"/>
<circle cx="460.43" cy="274.01" r="0.62" fill="#2a3cb8" opacity="0.85"/>
<circle cx="461.38" cy="278.75" r="0.62" fill="#2a3cb8" opacity="0.85"/>
<circle cx="460.81" cy="270.49" r="0.62" fill="#7088dc" opacity="0.85"/>
<circle cx="460.85" cy="277.28" r="0.62" fill="#5570d8" opacity="0.85"/>
<circle cx="461.90" cy="279.41" r="0.62" fill="#3a5ad0" opacity="0.85"/>
<circle cx="461.17" cy="274.16" r="0.62" fill="#5570d8" opacity="0.85"/>
<circle cx="461.44" cy="273.23" r="0.62" fill="#7088dc" opacity="0.85"/>
<circle cx="463.79" cy="271.13" r="0.62" fill="#2f45c8" opacity="0.85"/>
<circle cx="464.61" cy="275.12" r="0.62" fill="#3a5ad0" opacity="0.85"/>
<circle cx="460.11" cy="280.89" r="0.62" fill="#7088dc" opacity="0.85"/>
<circle cx="460.14" cy="269.47" r="0.62" fill="#5570d8" opacity="0.85"/>
<circle cx="458.60" cy="279.02" r="0.62" fill="#5570d8" opacity="0.85"/>
<circle cx="460.63" cy="280.21" r="0.62" fill="#2a3cb8" opacity="0.85"/>
<circle cx="460.72" cy="270.60" r="0.62" fill="#2a3cb8" opacity="0.85"/>
<circle cx="459.56" cy="271.03" r="0.62" fill="#3a5ad0" opacity="0.85"/>
<circle cx="461.80" cy="274.77" r="0.62" fill="#2a3cb8" opacity="0.85"/>
<circle cx="464.16" cy="277.22" r="0.62" fill="#5570d8" opacity="0.85"/>
<circle cx="460.54" cy="277.40" r="0.62" fill="#3a5ad0" opacity="0.85"/>
<circle cx="461.36" cy="274.39" r="0.62" fill="#2a3cb8" opacity="0.85"/>
<circle cx="462.32" cy="275.01" r="0.62" fill="#2f45c8" opacity="0.85"/>
<circle cx="463.27" cy="277.38" r="0.62" fill="#7088dc" opacity="0.85"/>
<rect x="458.2" y="245.5" width="8.4" height="36.4" fill="none" stroke="#888" stroke-width="0.7"/>
<rect x="455.2" y="267.4" width="6.5" height="14.5" fill="none" stroke="#888" stroke-width="0.7"/>
<line x1="456.00" y1="281.30" x2="465.00" y2="281.30" stroke="#8ccf7a" stroke-width="0.8" stroke-linecap="butt"/>
<text x="462.90" y="242.20" font-size="6.8" text-anchor="middle" font-weight="normal" fill="#333" stroke="#333" stroke-width="0.35">14.5</text>
<text x="443.30" y="277.60" font-size="6.8" text-anchor="middle" font-weight="normal" fill="#333" stroke="#333" stroke-width="0.35">63.7</text>
<text x="478.80" y="277.60" font-size="6.8" text-anchor="middle" font-weight="normal" fill="#333" stroke="#333" stroke-width="0.35">16.4</text>
<text x="374.90" y="316.60" font-size="10.6" text-anchor="middle" font-weight="normal" fill="#000" stroke="#000" stroke-width="0.18" textLength="46.00" lengthAdjust="spacingAndGlyphs">BM - PBS</text>
<rect x="348.00" y="318.80" width="54.30" height="56.10" fill="none" stroke="#a0a0a0" stroke-width="0.8"/>
<text transform="translate(339.20 347.80) rotate(-90)" font-size="7.6" text-anchor="middle" font-weight="normal" fill="#000" stroke="#000" stroke-width="0.18" textLength="39.20" lengthAdjust="spacingAndGlyphs">BrdU - v450</text>
<text x="376.40" y="385.80" font-size="7.6" text-anchor="middle" font-weight="normal" fill="#000" stroke="#000" stroke-width="0.18" textLength="21.50" lengthAdjust="spacingAndGlyphs">7-AAD</text>
<text x="345.50" y="324.85" font-size="3.2" text-anchor="end" font-weight="normal" fill="#888">10</text>
<text x="345.50" y="337.19" font-size="3.2" text-anchor="end" font-weight="normal" fill="#888">10</text>
<text x="345.50" y="349.53" font-size="3.2" text-anchor="end" font-weight="normal" fill="#888">10</text>
<text x="345.50" y="362.44" font-size="3.2" text-anchor="end" font-weight="normal" fill="#888">10</text>
<text x="345.50" y="370.29" font-size="3.2" text-anchor="end" font-weight="normal" fill="#888">0</text>
<text x="353.43" y="379.10" font-size="3.2" text-anchor="middle" font-weight="normal" fill="#888">0</text>
<text x="358.86" y="379.10" font-size="3.2" text-anchor="middle" font-weight="normal" fill="#888">10</text>
<text x="374.06" y="379.10" font-size="3.2" text-anchor="middle" font-weight="normal" fill="#888">10</text>
<text x="383.84" y="379.10" font-size="3.2" text-anchor="middle" font-weight="normal" fill="#888">10</text>
<text x="396.87" y="379.10" font-size="3.2" text-anchor="middle" font-weight="normal" fill="#888">10</text>
<line x1="358.86" y1="374.90" x2="358.86" y2="373.70" stroke="#999" stroke-width="0.6" stroke-linecap="butt"/>
<line x1="374.06" y1="374.90" x2="374.06" y2="373.70" stroke="#999" stroke-width="0.6" stroke-linecap="butt"/>
<line x1="383.84" y1="374.90" x2="383.84" y2="373.70" stroke="#999" stroke-width="0.6" stroke-linecap="butt"/>
<line x1="396.87" y1="374.90" x2="396.87" y2="373.70" stroke="#999" stroke-width="0.6" stroke-linecap="butt"/>
<line x1="348.00" y1="323.85" x2="349.20" y2="323.85" stroke="#999" stroke-width="0.6" stroke-linecap="butt"/>
<line x1="348.00" y1="336.19" x2="349.20" y2="336.19" stroke="#999" stroke-width="0.6" stroke-linecap="butt"/>
<line x1="348.00" y1="348.53" x2="349.20" y2="348.53" stroke="#999" stroke-width="0.6" stroke-linecap="butt"/>
<line x1="348.00" y1="361.44" x2="349.20" y2="361.44" stroke="#999" stroke-width="0.6" stroke-linecap="butt"/>
<g filter="url(#bl)">
<path d="M354.50,366.50 L355.50,362.50 L361.00,359.50 L367.00,356.50 L371.50,354.50 L372.50,358.00 L368.00,361.50 L361.00,365.00 L356.00,367.50 Z" fill="#8e9af0" opacity="0.9"/>
<path d="M357.00,364.80 L362.00,362.00 L368.00,358.80 L371.50,357.00 Z" fill="none" stroke="#4050dc" stroke-width="1.3"/>
</g>
<g filter="url(#bl2)">
<path d="M384.30,340.30 L386.90,343.50 L388.00,352.00 L388.30,360.00 L387.20,366.00 L385.80,374.00 L372.50,374.20 L370.80,368.00 L371.30,362.00 L374.50,358.80 L378.50,356.80 L380.60,349.50 L382.20,343.00 Z" fill="#1820cc"/>
<path d="M384.40,344.50 L386.00,349.00 L386.40,358.00 L385.30,365.00 L383.50,371.30 L374.00,371.30 L373.00,366.50 L375.00,361.50 L378.80,359.00 L381.60,350.50 Z" fill="#3a66ee"/>
<ellipse cx="384.3" cy="352" rx="1.3" ry="5.5" fill="#5a9af6"/>
<ellipse cx="379" cy="364.6" rx="5.3" ry="5" fill="#34c2ee"/>
<ellipse cx="378.9" cy="364.2" rx="3.1" ry="3.1" fill="#5cd86a"/>
<ellipse cx="378.7" cy="364.1" rx="1.3" ry="1.6" fill="#f2e23e"/>
</g>
<rect x="372.4" y="336.4" width="16.1" height="38.5" fill="none" stroke="#b09a78" stroke-width="0.6"/>
<line x1="372.40" y1="359.40" x2="388.50" y2="359.40" stroke="#556" stroke-width="0.6" stroke-linecap="butt"/>
<text x="380.40" y="331.30" font-size="6.8" text-anchor="middle" font-weight="normal" fill="#333" stroke="#333" stroke-width="0.35">12.2</text>
<text x="361.00" y="370.80" font-size="6.8" text-anchor="middle" font-weight="normal" fill="#333" stroke="#333" stroke-width="0.35">74.1</text>
<text x="395.60" y="370.80" font-size="6.8" text-anchor="middle" font-weight="normal" fill="#333" stroke="#333" stroke-width="0.35">12.7</text>
<text x="460.70" y="316.60" font-size="10.6" text-anchor="middle" font-weight="normal" fill="#000" stroke="#000" stroke-width="0.18" textLength="40.50" lengthAdjust="spacingAndGlyphs">BM - DA</text>
<rect x="431.70" y="318.80" width="54.40" height="56.10" fill="none" stroke="#a0a0a0" stroke-width="0.8"/>
<text transform="translate(424.40 348.60) rotate(-90)" font-size="7.6" text-anchor="middle" font-weight="normal" fill="#000" stroke="#000" stroke-width="0.18" textLength="39.20" lengthAdjust="spacingAndGlyphs">BrdU - v450</text>
<text x="460.50" y="385.80" font-size="7.6" text-anchor="middle" font-weight="normal" fill="#000" stroke="#000" stroke-width="0.18" textLength="21.50" lengthAdjust="spacingAndGlyphs">7-AAD</text>
<text x="429.20" y="324.85" font-size="3.2" text-anchor="end" font-weight="normal" fill="#888">10</text>
<text x="429.20" y="337.19" font-size="3.2" text-anchor="end" font-weight="normal" fill="#888">10</text>
<text x="429.20" y="349.53" font-size="3.2" text-anchor="end" font-weight="normal" fill="#888">10</text>
<text x="429.20" y="362.44" font-size="3.2" text-anchor="end" font-weight="normal" fill="#888">10</text>
<text x="429.20" y="370.29" font-size="3.2" text-anchor="end" font-weight="normal" fill="#888">0</text>
<text x="437.14" y="379.10" font-size="3.2" text-anchor="middle" font-weight="normal" fill="#888">0</text>
<text x="442.58" y="379.10" font-size="3.2" text-anchor="middle" font-weight="normal" fill="#888">10</text>
<text x="457.81" y="379.10" font-size="3.2" text-anchor="middle" font-weight="normal" fill="#888">10</text>
<text x="467.60" y="379.10" font-size="3.2" text-anchor="middle" font-weight="normal" fill="#888">10</text>
<text x="480.66" y="379.10" font-size="3.2" text-anchor="middle" font-weight="normal" fill="#888">10</text>
<line x1="442.58" y1="374.90" x2="442.58" y2="373.70" stroke="#999" stroke-width="0.6" stroke-linecap="butt"/>
<line x1="457.81" y1="374.90" x2="457.81" y2="373.70" stroke="#999" stroke-width="0.6" stroke-linecap="butt"/>
<line x1="467.60" y1="374.90" x2="467.60" y2="373.70" stroke="#999" stroke-width="0.6" stroke-linecap="butt"/>
<line x1="480.66" y1="374.90" x2="480.66" y2="373.70" stroke="#999" stroke-width="0.6" stroke-linecap="butt"/>
<line x1="431.70" y1="323.85" x2="432.90" y2="323.85" stroke="#999" stroke-width="0.6" stroke-linecap="butt"/>
<line x1="431.70" y1="336.19" x2="432.90" y2="336.19" stroke="#999" stroke-width="0.6" stroke-linecap="butt"/>
<line x1="431.70" y1="348.53" x2="432.90" y2="348.53" stroke="#999" stroke-width="0.6" stroke-linecap="butt"/>
<line x1="431.70" y1="361.44" x2="432.90" y2="361.44" stroke="#999" stroke-width="0.6" stroke-linecap="butt"/>
<g filter="url(#bl)">
<path d="M433.50,366.00 L434.50,361.50 L442.00,359.80 L449.00,358.30 L453.00,357.60 L453.50,361.00 L449.00,363.00 L441.00,365.50 L435.00,367.00 Z" fill="#8e9af0" opacity="0.9"/>
<path d="M435.50,363.60 L442.00,362.20 L451.50,360.20 Z" fill="none" stroke="#2e3ad0" stroke-width="1.4"/>
</g>
<g filter="url(#bl2)">
<path d="M466.20,338.60 L469.00,341.30 L470.40,350.00 L470.10,358.00 L469.00,366.00 L468.20,374.20 L457.80,374.20 L458.00,366.00 L459.30,357.00 L460.80,349.00 L462.50,341.80 Z" fill="#1820cc"/>
<path d="M466.00,343.00 L468.00,347.00 L468.40,356.00 L467.60,364.00 L466.60,371.30 L460.00,371.30 L460.40,364.00 L461.70,355.00 L463.00,347.50 Z" fill="#3a66ee"/>
<ellipse cx="464.6" cy="357" rx="3.3" ry="9.5" fill="#34c2ee"/>
<ellipse cx="464.3" cy="357.5" rx="2.2" ry="6.8" fill="#5cd86a"/>
<ellipse cx="462.7" cy="363.2" rx="1.2" ry="2.6" fill="#f2e23e"/>
</g>
<rect x="458.2" y="336.2" width="14.2" height="38.7" fill="none" stroke="#b09a78" stroke-width="0.6"/>
<line x1="458.20" y1="359.40" x2="472.40" y2="359.40" stroke="#556" stroke-width="0.6" stroke-linecap="butt"/>
<text x="464.60" y="331.30" font-size="6.8" text-anchor="middle" font-weight="normal" fill="#333" stroke="#333" stroke-width="0.35">30.8</text>
<text x="444.30" y="370.80" font-size="6.8" text-anchor="middle" font-weight="normal" fill="#333" stroke="#333" stroke-width="0.35">55.6</text>
<text x="480.00" y="370.80" font-size="6.8" text-anchor="middle" font-weight="normal" fill="#333" stroke="#333" stroke-width="0.35">12.8</text>
</svg></div>
</body></html>
